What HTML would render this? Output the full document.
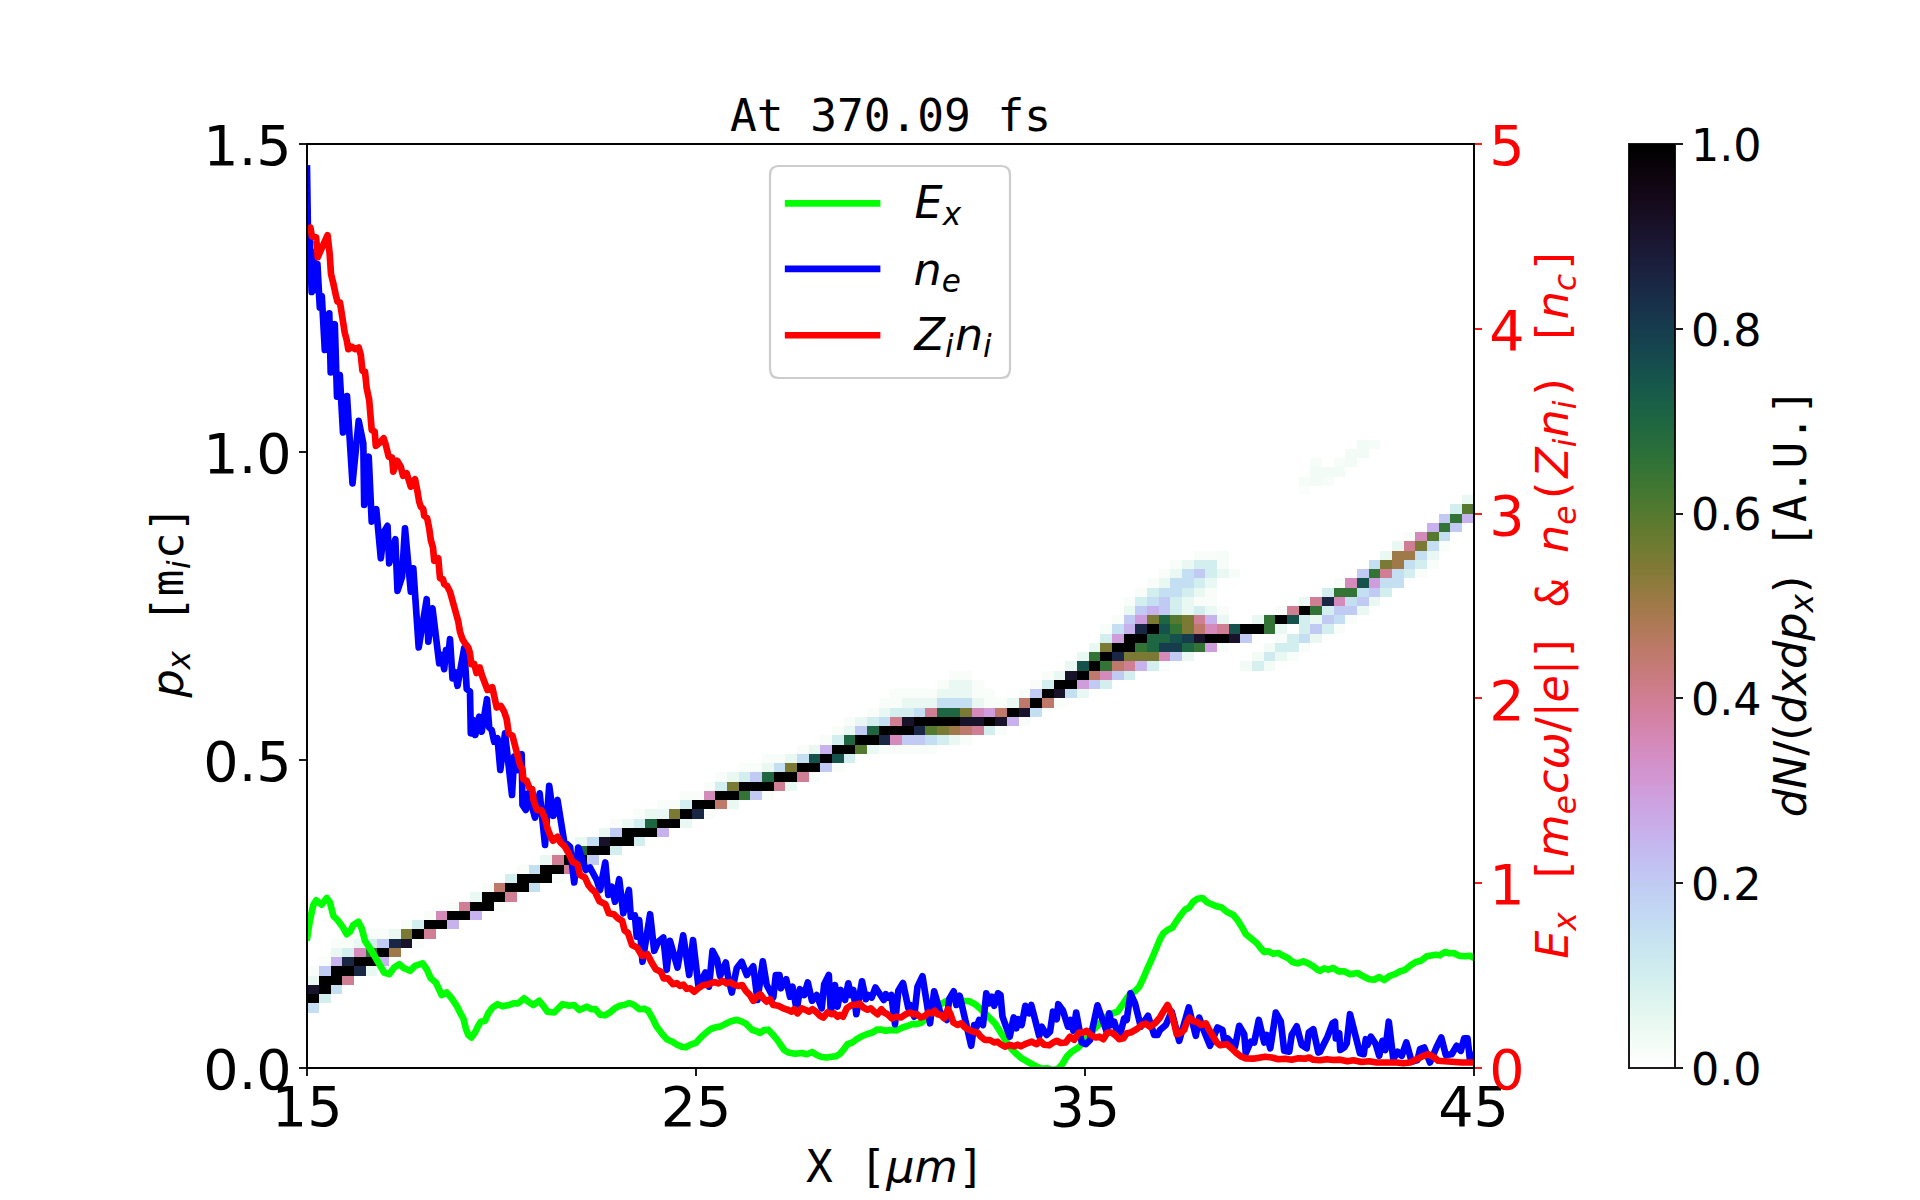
<!DOCTYPE html>
<html lang="en">
<head>
<meta charset="utf-8">
<title>At 370.09 fs</title>
<style>
html,body{margin:0;padding:0;background:#fff;overflow:hidden}
body{width:1920px;height:1200px}
svg{display:block;position:absolute;left:0;top:0}
svg text{white-space:pre}
</style>
</head>
<body>
<svg width="1920" height="1200" viewBox="0 0 1920 1200">
<rect width="1920" height="1200" fill="#ffffff"/>
<g id="hist" shape-rendering="crispEdges">
<rect x="307.200" y="1003.320" width="11.664" height="9.240" fill="#c5dff2"/>
<rect x="307.200" y="994.080" width="11.664" height="9.240" fill="#000000"/>
<rect x="318.864" y="994.080" width="11.664" height="9.240" fill="#d3eeef"/>
<rect x="307.200" y="984.840" width="11.664" height="9.240" fill="#19122b"/>
<rect x="318.864" y="984.840" width="11.664" height="9.240" fill="#000000"/>
<rect x="330.528" y="984.840" width="11.664" height="9.240" fill="#c5dff2"/>
<rect x="307.200" y="975.600" width="11.664" height="9.240" fill="#e9f8f2"/>
<rect x="318.864" y="975.600" width="23.328" height="9.240" fill="#000000"/>
<rect x="342.192" y="975.600" width="11.664" height="9.240" fill="#d07e93"/>
<rect x="307.200" y="966.360" width="11.664" height="9.240" fill="#f8fdfa"/>
<rect x="318.864" y="966.360" width="11.664" height="9.240" fill="#c1caf3"/>
<rect x="330.528" y="966.360" width="23.328" height="9.240" fill="#000000"/>
<rect x="353.856" y="966.360" width="11.664" height="9.240" fill="#1a2744"/>
<rect x="365.520" y="966.360" width="11.664" height="9.240" fill="#e9f8f2"/>
<rect x="318.864" y="957.120" width="11.664" height="9.240" fill="#f8fdfa"/>
<rect x="330.528" y="957.120" width="11.664" height="9.240" fill="#c7b2ed"/>
<rect x="342.192" y="957.120" width="11.664" height="9.240" fill="#1a2744"/>
<rect x="353.856" y="957.120" width="23.328" height="9.240" fill="#000000"/>
<rect x="377.184" y="957.120" width="11.664" height="9.240" fill="#c7b2ed"/>
<rect x="330.528" y="947.880" width="11.664" height="9.240" fill="#e9f8f2"/>
<rect x="342.192" y="947.880" width="11.664" height="9.240" fill="#d3eeef"/>
<rect x="353.856" y="947.880" width="11.664" height="9.240" fill="#d48abb"/>
<rect x="365.520" y="947.880" width="11.664" height="9.240" fill="#337335"/>
<rect x="377.184" y="947.880" width="11.664" height="9.240" fill="#000000"/>
<rect x="388.848" y="947.880" width="11.664" height="9.240" fill="#9f7948"/>
<rect x="330.528" y="938.640" width="23.328" height="9.240" fill="#f8fdfa"/>
<rect x="353.856" y="938.640" width="11.664" height="9.240" fill="#e9f8f2"/>
<rect x="365.520" y="938.640" width="11.664" height="9.240" fill="#d3eeef"/>
<rect x="377.184" y="938.640" width="11.664" height="9.240" fill="#c1caf3"/>
<rect x="388.848" y="938.640" width="11.664" height="9.240" fill="#1a2744"/>
<rect x="400.512" y="938.640" width="11.664" height="9.240" fill="#19122b"/>
<rect x="412.176" y="938.640" width="11.664" height="9.240" fill="#f8fdfa"/>
<rect x="342.192" y="929.400" width="46.656" height="9.240" fill="#f8fdfa"/>
<rect x="388.848" y="929.400" width="11.664" height="9.240" fill="#e9f8f2"/>
<rect x="400.512" y="929.400" width="11.664" height="9.240" fill="#7b7a35"/>
<rect x="412.176" y="929.400" width="11.664" height="9.240" fill="#000000"/>
<rect x="423.840" y="929.400" width="11.664" height="9.240" fill="#d07e93"/>
<rect x="400.512" y="920.160" width="11.664" height="9.240" fill="#f8fdfa"/>
<rect x="412.176" y="920.160" width="11.664" height="9.240" fill="#d3eeef"/>
<rect x="423.840" y="920.160" width="23.328" height="9.240" fill="#000000"/>
<rect x="447.168" y="920.160" width="11.664" height="9.240" fill="#c7b2ed"/>
<rect x="423.840" y="910.920" width="11.664" height="9.240" fill="#f8fdfa"/>
<rect x="435.504" y="910.920" width="11.664" height="9.240" fill="#d48abb"/>
<rect x="447.168" y="910.920" width="23.328" height="9.240" fill="#000000"/>
<rect x="470.496" y="910.920" width="11.664" height="9.240" fill="#c7b2ed"/>
<rect x="447.168" y="901.680" width="11.664" height="9.240" fill="#f8fdfa"/>
<rect x="458.832" y="901.680" width="11.664" height="9.240" fill="#d07e93"/>
<rect x="470.496" y="901.680" width="23.328" height="9.240" fill="#000000"/>
<rect x="493.824" y="901.680" width="11.664" height="9.240" fill="#f8fdfa"/>
<rect x="470.496" y="892.440" width="11.664" height="9.240" fill="#e9f8f2"/>
<rect x="482.160" y="892.440" width="23.328" height="9.240" fill="#000000"/>
<rect x="505.488" y="892.440" width="11.664" height="9.240" fill="#d07e93"/>
<rect x="482.160" y="883.200" width="11.664" height="9.240" fill="#f8fdfa"/>
<rect x="493.824" y="883.200" width="11.664" height="9.240" fill="#be796a"/>
<rect x="505.488" y="883.200" width="23.328" height="9.240" fill="#000000"/>
<rect x="528.816" y="883.200" width="11.664" height="9.240" fill="#c5dff2"/>
<rect x="505.488" y="873.960" width="11.664" height="9.240" fill="#d3eeef"/>
<rect x="517.152" y="873.960" width="34.992" height="9.240" fill="#000000"/>
<rect x="552.144" y="873.960" width="11.664" height="9.240" fill="#f8fdfa"/>
<rect x="517.152" y="864.720" width="11.664" height="9.240" fill="#f8fdfa"/>
<rect x="528.816" y="864.720" width="11.664" height="9.240" fill="#c5dff2"/>
<rect x="540.480" y="864.720" width="23.328" height="9.240" fill="#000000"/>
<rect x="563.808" y="864.720" width="11.664" height="9.240" fill="#d07e93"/>
<rect x="540.480" y="855.480" width="11.664" height="9.240" fill="#e9f8f2"/>
<rect x="552.144" y="855.480" width="11.664" height="9.240" fill="#d07e93"/>
<rect x="563.808" y="855.480" width="23.328" height="9.240" fill="#000000"/>
<rect x="587.136" y="855.480" width="11.664" height="9.240" fill="#c1caf3"/>
<rect x="552.144" y="846.240" width="11.664" height="9.240" fill="#f8fdfa"/>
<rect x="563.808" y="846.240" width="11.664" height="9.240" fill="#d3eeef"/>
<rect x="575.472" y="846.240" width="11.664" height="9.240" fill="#1e6542"/>
<rect x="587.136" y="846.240" width="23.328" height="9.240" fill="#000000"/>
<rect x="610.464" y="846.240" width="11.664" height="9.240" fill="#d3eeef"/>
<rect x="575.472" y="837.000" width="11.664" height="9.240" fill="#e9f8f2"/>
<rect x="587.136" y="837.000" width="11.664" height="9.240" fill="#c5dff2"/>
<rect x="598.800" y="837.000" width="11.664" height="9.240" fill="#19122b"/>
<rect x="610.464" y="837.000" width="23.328" height="9.240" fill="#000000"/>
<rect x="633.792" y="837.000" width="11.664" height="9.240" fill="#d3eeef"/>
<rect x="598.800" y="827.760" width="11.664" height="9.240" fill="#e9f8f2"/>
<rect x="610.464" y="827.760" width="11.664" height="9.240" fill="#c1caf3"/>
<rect x="622.128" y="827.760" width="34.992" height="9.240" fill="#000000"/>
<rect x="657.120" y="827.760" width="11.664" height="9.240" fill="#c7b2ed"/>
<rect x="610.464" y="818.520" width="11.664" height="9.240" fill="#f8fdfa"/>
<rect x="622.128" y="818.520" width="11.664" height="9.240" fill="#e9f8f2"/>
<rect x="633.792" y="818.520" width="11.664" height="9.240" fill="#d3eeef"/>
<rect x="645.456" y="818.520" width="11.664" height="9.240" fill="#1e6542"/>
<rect x="657.120" y="818.520" width="23.328" height="9.240" fill="#000000"/>
<rect x="680.448" y="818.520" width="11.664" height="9.240" fill="#e9f8f2"/>
<rect x="633.792" y="809.280" width="11.664" height="9.240" fill="#f8fdfa"/>
<rect x="645.456" y="809.280" width="23.328" height="9.240" fill="#e9f8f2"/>
<rect x="668.784" y="809.280" width="11.664" height="9.240" fill="#7b7a35"/>
<rect x="680.448" y="809.280" width="11.664" height="9.240" fill="#000000"/>
<rect x="692.112" y="809.280" width="11.664" height="9.240" fill="#1a2744"/>
<rect x="703.776" y="809.280" width="11.664" height="9.240" fill="#f8fdfa"/>
<rect x="657.120" y="800.040" width="23.328" height="9.240" fill="#f8fdfa"/>
<rect x="680.448" y="800.040" width="11.664" height="9.240" fill="#d3eeef"/>
<rect x="692.112" y="800.040" width="23.328" height="9.240" fill="#000000"/>
<rect x="715.440" y="800.040" width="11.664" height="9.240" fill="#be796a"/>
<rect x="727.104" y="800.040" width="11.664" height="9.240" fill="#e9f8f2"/>
<rect x="680.448" y="790.800" width="23.328" height="9.240" fill="#f8fdfa"/>
<rect x="703.776" y="790.800" width="11.664" height="9.240" fill="#d48abb"/>
<rect x="715.440" y="790.800" width="23.328" height="9.240" fill="#000000"/>
<rect x="738.768" y="790.800" width="11.664" height="9.240" fill="#337335"/>
<rect x="750.432" y="790.800" width="11.664" height="9.240" fill="#c1caf3"/>
<rect x="762.096" y="790.800" width="11.664" height="9.240" fill="#f8fdfa"/>
<rect x="703.776" y="781.560" width="11.664" height="9.240" fill="#f8fdfa"/>
<rect x="715.440" y="781.560" width="11.664" height="9.240" fill="#d3eeef"/>
<rect x="727.104" y="781.560" width="11.664" height="9.240" fill="#7b7a35"/>
<rect x="738.768" y="781.560" width="34.992" height="9.240" fill="#000000"/>
<rect x="773.760" y="781.560" width="11.664" height="9.240" fill="#d07e93"/>
<rect x="785.424" y="781.560" width="11.664" height="9.240" fill="#e9f8f2"/>
<rect x="715.440" y="772.320" width="11.664" height="9.240" fill="#f8fdfa"/>
<rect x="727.104" y="772.320" width="11.664" height="9.240" fill="#e9f8f2"/>
<rect x="738.768" y="772.320" width="11.664" height="9.240" fill="#d3eeef"/>
<rect x="750.432" y="772.320" width="11.664" height="9.240" fill="#c1caf3"/>
<rect x="762.096" y="772.320" width="11.664" height="9.240" fill="#1e6542"/>
<rect x="773.760" y="772.320" width="23.328" height="9.240" fill="#000000"/>
<rect x="797.088" y="772.320" width="11.664" height="9.240" fill="#d07e93"/>
<rect x="808.752" y="772.320" width="11.664" height="9.240" fill="#f8fdfa"/>
<rect x="738.768" y="763.080" width="23.328" height="9.240" fill="#f8fdfa"/>
<rect x="762.096" y="763.080" width="11.664" height="9.240" fill="#e9f8f2"/>
<rect x="773.760" y="763.080" width="11.664" height="9.240" fill="#c5dff2"/>
<rect x="785.424" y="763.080" width="11.664" height="9.240" fill="#7b7a35"/>
<rect x="797.088" y="763.080" width="23.328" height="9.240" fill="#000000"/>
<rect x="820.416" y="763.080" width="11.664" height="9.240" fill="#c1caf3"/>
<rect x="832.080" y="763.080" width="11.664" height="9.240" fill="#f8fdfa"/>
<rect x="762.096" y="753.840" width="23.328" height="9.240" fill="#f8fdfa"/>
<rect x="785.424" y="753.840" width="11.664" height="9.240" fill="#e9f8f2"/>
<rect x="797.088" y="753.840" width="11.664" height="9.240" fill="#c5dff2"/>
<rect x="808.752" y="753.840" width="11.664" height="9.240" fill="#15524c"/>
<rect x="820.416" y="753.840" width="11.664" height="9.240" fill="#000000"/>
<rect x="832.080" y="753.840" width="11.664" height="9.240" fill="#15524c"/>
<rect x="843.744" y="753.840" width="11.664" height="9.240" fill="#d3eeef"/>
<rect x="797.088" y="744.600" width="11.664" height="9.240" fill="#f8fdfa"/>
<rect x="808.752" y="744.600" width="11.664" height="9.240" fill="#e9f8f2"/>
<rect x="820.416" y="744.600" width="11.664" height="9.240" fill="#c7b2ed"/>
<rect x="832.080" y="744.600" width="23.328" height="9.240" fill="#000000"/>
<rect x="855.408" y="744.600" width="11.664" height="9.240" fill="#54792f"/>
<rect x="867.072" y="744.600" width="11.664" height="9.240" fill="#e9f8f2"/>
<rect x="878.736" y="744.600" width="58.320" height="9.240" fill="#f8fdfa"/>
<rect x="820.416" y="735.360" width="11.664" height="9.240" fill="#f8fdfa"/>
<rect x="832.080" y="735.360" width="11.664" height="9.240" fill="#d3eeef"/>
<rect x="843.744" y="735.360" width="11.664" height="9.240" fill="#1e6542"/>
<rect x="855.408" y="735.360" width="23.328" height="9.240" fill="#000000"/>
<rect x="878.736" y="735.360" width="11.664" height="9.240" fill="#1a2744"/>
<rect x="890.400" y="735.360" width="11.664" height="9.240" fill="#d48abb"/>
<rect x="902.064" y="735.360" width="23.328" height="9.240" fill="#c1caf3"/>
<rect x="925.392" y="735.360" width="11.664" height="9.240" fill="#c5dff2"/>
<rect x="937.056" y="735.360" width="11.664" height="9.240" fill="#d3eeef"/>
<rect x="948.720" y="735.360" width="11.664" height="9.240" fill="#e9f8f2"/>
<rect x="960.384" y="735.360" width="11.664" height="9.240" fill="#f8fdfa"/>
<rect x="832.080" y="726.120" width="11.664" height="9.240" fill="#f8fdfa"/>
<rect x="843.744" y="726.120" width="11.664" height="9.240" fill="#e9f8f2"/>
<rect x="855.408" y="726.120" width="11.664" height="9.240" fill="#c1caf3"/>
<rect x="867.072" y="726.120" width="11.664" height="9.240" fill="#1e6542"/>
<rect x="878.736" y="726.120" width="34.992" height="9.240" fill="#000000"/>
<rect x="913.728" y="726.120" width="11.664" height="9.240" fill="#1a2744"/>
<rect x="925.392" y="726.120" width="11.664" height="9.240" fill="#54792f"/>
<rect x="937.056" y="726.120" width="11.664" height="9.240" fill="#7b7a35"/>
<rect x="948.720" y="726.120" width="11.664" height="9.240" fill="#9f7948"/>
<rect x="960.384" y="726.120" width="11.664" height="9.240" fill="#be796a"/>
<rect x="972.048" y="726.120" width="11.664" height="9.240" fill="#d07e93"/>
<rect x="983.712" y="726.120" width="11.664" height="9.240" fill="#d3eeef"/>
<rect x="995.376" y="726.120" width="11.664" height="9.240" fill="#f8fdfa"/>
<rect x="843.744" y="716.880" width="11.664" height="9.240" fill="#f8fdfa"/>
<rect x="855.408" y="716.880" width="11.664" height="9.240" fill="#e9f8f2"/>
<rect x="867.072" y="716.880" width="11.664" height="9.240" fill="#d3eeef"/>
<rect x="878.736" y="716.880" width="11.664" height="9.240" fill="#c5dff2"/>
<rect x="890.400" y="716.880" width="11.664" height="9.240" fill="#d07e93"/>
<rect x="902.064" y="716.880" width="11.664" height="9.240" fill="#19122b"/>
<rect x="913.728" y="716.880" width="46.656" height="9.240" fill="#000000"/>
<rect x="960.384" y="716.880" width="23.328" height="9.240" fill="#19122b"/>
<rect x="983.712" y="716.880" width="11.664" height="9.240" fill="#000000"/>
<rect x="995.376" y="716.880" width="11.664" height="9.240" fill="#19122b"/>
<rect x="1007.040" y="716.880" width="11.664" height="9.240" fill="#c7b2ed"/>
<rect x="1018.704" y="716.880" width="11.664" height="9.240" fill="#f8fdfa"/>
<rect x="867.072" y="707.640" width="11.664" height="9.240" fill="#f8fdfa"/>
<rect x="878.736" y="707.640" width="11.664" height="9.240" fill="#e9f8f2"/>
<rect x="890.400" y="707.640" width="23.328" height="9.240" fill="#d3eeef"/>
<rect x="913.728" y="707.640" width="11.664" height="9.240" fill="#c5dff2"/>
<rect x="925.392" y="707.640" width="11.664" height="9.240" fill="#d07e93"/>
<rect x="937.056" y="707.640" width="23.328" height="9.240" fill="#1e6542"/>
<rect x="960.384" y="707.640" width="11.664" height="9.240" fill="#7b7a35"/>
<rect x="972.048" y="707.640" width="11.664" height="9.240" fill="#d48abb"/>
<rect x="983.712" y="707.640" width="11.664" height="9.240" fill="#cf9ddb"/>
<rect x="995.376" y="707.640" width="11.664" height="9.240" fill="#be796a"/>
<rect x="1007.040" y="707.640" width="11.664" height="9.240" fill="#000000"/>
<rect x="1018.704" y="707.640" width="11.664" height="9.240" fill="#19122b"/>
<rect x="1030.368" y="707.640" width="11.664" height="9.240" fill="#c5dff2"/>
<rect x="878.736" y="698.400" width="23.328" height="9.240" fill="#f8fdfa"/>
<rect x="902.064" y="698.400" width="34.992" height="9.240" fill="#e9f8f2"/>
<rect x="937.056" y="698.400" width="34.992" height="9.240" fill="#c5dff2"/>
<rect x="972.048" y="698.400" width="11.664" height="9.240" fill="#e9f8f2"/>
<rect x="983.712" y="698.400" width="23.328" height="9.240" fill="#f8fdfa"/>
<rect x="1007.040" y="698.400" width="11.664" height="9.240" fill="#e9f8f2"/>
<rect x="1018.704" y="698.400" width="11.664" height="9.240" fill="#be796a"/>
<rect x="1030.368" y="698.400" width="11.664" height="9.240" fill="#000000"/>
<rect x="1042.032" y="698.400" width="11.664" height="9.240" fill="#be796a"/>
<rect x="1053.696" y="698.400" width="11.664" height="9.240" fill="#f8fdfa"/>
<rect x="890.400" y="689.160" width="46.656" height="9.240" fill="#f8fdfa"/>
<rect x="937.056" y="689.160" width="34.992" height="9.240" fill="#e9f8f2"/>
<rect x="972.048" y="689.160" width="23.328" height="9.240" fill="#f8fdfa"/>
<rect x="1018.704" y="689.160" width="11.664" height="9.240" fill="#f8fdfa"/>
<rect x="1030.368" y="689.160" width="11.664" height="9.240" fill="#c1caf3"/>
<rect x="1042.032" y="689.160" width="11.664" height="9.240" fill="#000000"/>
<rect x="1053.696" y="689.160" width="11.664" height="9.240" fill="#19122b"/>
<rect x="1065.360" y="689.160" width="11.664" height="9.240" fill="#c5dff2"/>
<rect x="1077.024" y="689.160" width="11.664" height="9.240" fill="#e9f8f2"/>
<rect x="937.056" y="679.920" width="11.664" height="9.240" fill="#f8fdfa"/>
<rect x="948.720" y="679.920" width="23.328" height="9.240" fill="#e9f8f2"/>
<rect x="972.048" y="679.920" width="11.664" height="9.240" fill="#f8fdfa"/>
<rect x="1030.368" y="679.920" width="11.664" height="9.240" fill="#f8fdfa"/>
<rect x="1042.032" y="679.920" width="11.664" height="9.240" fill="#d3eeef"/>
<rect x="1053.696" y="679.920" width="23.328" height="9.240" fill="#000000"/>
<rect x="1077.024" y="679.920" width="11.664" height="9.240" fill="#cf9ddb"/>
<rect x="1088.688" y="679.920" width="11.664" height="9.240" fill="#c1caf3"/>
<rect x="1100.352" y="679.920" width="11.664" height="9.240" fill="#d3eeef"/>
<rect x="948.720" y="670.680" width="23.328" height="9.240" fill="#f8fdfa"/>
<rect x="1042.032" y="670.680" width="11.664" height="9.240" fill="#f8fdfa"/>
<rect x="1053.696" y="670.680" width="11.664" height="9.240" fill="#e9f8f2"/>
<rect x="1065.360" y="670.680" width="11.664" height="9.240" fill="#19122b"/>
<rect x="1077.024" y="670.680" width="11.664" height="9.240" fill="#000000"/>
<rect x="1088.688" y="670.680" width="11.664" height="9.240" fill="#be796a"/>
<rect x="1100.352" y="670.680" width="11.664" height="9.240" fill="#d48abb"/>
<rect x="1112.016" y="670.680" width="11.664" height="9.240" fill="#c1caf3"/>
<rect x="1123.680" y="670.680" width="11.664" height="9.240" fill="#d3eeef"/>
<rect x="1065.360" y="661.440" width="11.664" height="9.240" fill="#e9f8f2"/>
<rect x="1077.024" y="661.440" width="11.664" height="9.240" fill="#15524c"/>
<rect x="1088.688" y="661.440" width="11.664" height="9.240" fill="#000000"/>
<rect x="1100.352" y="661.440" width="11.664" height="9.240" fill="#337335"/>
<rect x="1112.016" y="661.440" width="11.664" height="9.240" fill="#be796a"/>
<rect x="1123.680" y="661.440" width="11.664" height="9.240" fill="#d07e93"/>
<rect x="1135.344" y="661.440" width="11.664" height="9.240" fill="#c7b2ed"/>
<rect x="1147.008" y="661.440" width="11.664" height="9.240" fill="#d3eeef"/>
<rect x="1158.672" y="661.440" width="11.664" height="9.240" fill="#f8fdfa"/>
<rect x="1240.320" y="661.440" width="11.664" height="9.240" fill="#f2fbf6"/>
<rect x="1251.984" y="661.440" width="11.664" height="9.240" fill="#d6f0ef"/>
<rect x="1263.648" y="661.440" width="11.664" height="9.240" fill="#f2fbf6"/>
<rect x="1077.024" y="652.200" width="11.664" height="9.240" fill="#e9f8f2"/>
<rect x="1088.688" y="652.200" width="11.664" height="9.240" fill="#337335"/>
<rect x="1100.352" y="652.200" width="11.664" height="9.240" fill="#000000"/>
<rect x="1112.016" y="652.200" width="11.664" height="9.240" fill="#1a2744"/>
<rect x="1123.680" y="652.200" width="34.992" height="9.240" fill="#7b7a35"/>
<rect x="1158.672" y="652.200" width="11.664" height="9.240" fill="#d48abb"/>
<rect x="1170.336" y="652.200" width="11.664" height="9.240" fill="#c1caf3"/>
<rect x="1182.000" y="652.200" width="11.664" height="9.240" fill="#e9f8f2"/>
<rect x="1251.984" y="652.200" width="11.664" height="9.240" fill="#f2fbf6"/>
<rect x="1263.648" y="652.200" width="11.664" height="9.240" fill="#cfebef"/>
<rect x="1275.312" y="652.200" width="11.664" height="9.240" fill="#e9f8f2"/>
<rect x="1286.976" y="652.200" width="11.664" height="9.240" fill="#f8fdfa"/>
<rect x="1088.688" y="642.960" width="11.664" height="9.240" fill="#e9f8f2"/>
<rect x="1100.352" y="642.960" width="11.664" height="9.240" fill="#7b7a35"/>
<rect x="1112.016" y="642.960" width="23.328" height="9.240" fill="#000000"/>
<rect x="1135.344" y="642.960" width="11.664" height="9.240" fill="#337335"/>
<rect x="1147.008" y="642.960" width="11.664" height="9.240" fill="#1e6542"/>
<rect x="1158.672" y="642.960" width="23.328" height="9.240" fill="#163d4e"/>
<rect x="1182.000" y="642.960" width="11.664" height="9.240" fill="#1e6542"/>
<rect x="1193.664" y="642.960" width="11.664" height="9.240" fill="#337335"/>
<rect x="1205.328" y="642.960" width="11.664" height="9.240" fill="#cf9ddb"/>
<rect x="1216.992" y="642.960" width="11.664" height="9.240" fill="#f8fdfa"/>
<rect x="1263.648" y="642.960" width="11.664" height="9.240" fill="#f2fbf6"/>
<rect x="1275.312" y="642.960" width="23.328" height="9.240" fill="#d3eeef"/>
<rect x="1298.640" y="642.960" width="11.664" height="9.240" fill="#f8fdfa"/>
<rect x="1100.352" y="633.720" width="11.664" height="9.240" fill="#d3eeef"/>
<rect x="1112.016" y="633.720" width="11.664" height="9.240" fill="#cf9ddb"/>
<rect x="1123.680" y="633.720" width="23.328" height="9.240" fill="#000000"/>
<rect x="1147.008" y="633.720" width="23.328" height="9.240" fill="#1e6542"/>
<rect x="1170.336" y="633.720" width="11.664" height="9.240" fill="#15524c"/>
<rect x="1182.000" y="633.720" width="11.664" height="9.240" fill="#163d4e"/>
<rect x="1193.664" y="633.720" width="11.664" height="9.240" fill="#19122b"/>
<rect x="1205.328" y="633.720" width="23.328" height="9.240" fill="#000000"/>
<rect x="1228.656" y="633.720" width="11.664" height="9.240" fill="#19122b"/>
<rect x="1240.320" y="633.720" width="11.664" height="9.240" fill="#c1caf3"/>
<rect x="1275.312" y="633.720" width="11.664" height="9.240" fill="#f8fdfa"/>
<rect x="1286.976" y="633.720" width="11.664" height="9.240" fill="#d3eeef"/>
<rect x="1298.640" y="633.720" width="11.664" height="9.240" fill="#c5dff2"/>
<rect x="1310.304" y="633.720" width="11.664" height="9.240" fill="#e9f8f2"/>
<rect x="1100.352" y="624.480" width="11.664" height="9.240" fill="#f8fdfa"/>
<rect x="1112.016" y="624.480" width="11.664" height="9.240" fill="#c5dff2"/>
<rect x="1123.680" y="624.480" width="11.664" height="9.240" fill="#c7b2ed"/>
<rect x="1135.344" y="624.480" width="11.664" height="9.240" fill="#1a2744"/>
<rect x="1147.008" y="624.480" width="11.664" height="9.240" fill="#000000"/>
<rect x="1158.672" y="624.480" width="11.664" height="9.240" fill="#15524c"/>
<rect x="1170.336" y="624.480" width="11.664" height="9.240" fill="#337335"/>
<rect x="1182.000" y="624.480" width="11.664" height="9.240" fill="#7b7a35"/>
<rect x="1193.664" y="624.480" width="11.664" height="9.240" fill="#be796a"/>
<rect x="1205.328" y="624.480" width="11.664" height="9.240" fill="#d48abb"/>
<rect x="1216.992" y="624.480" width="11.664" height="9.240" fill="#d07e93"/>
<rect x="1228.656" y="624.480" width="11.664" height="9.240" fill="#15524c"/>
<rect x="1240.320" y="624.480" width="23.328" height="9.240" fill="#000000"/>
<rect x="1263.648" y="624.480" width="11.664" height="9.240" fill="#337335"/>
<rect x="1275.312" y="624.480" width="11.664" height="9.240" fill="#e9f8f2"/>
<rect x="1298.640" y="624.480" width="11.664" height="9.240" fill="#d3eeef"/>
<rect x="1310.304" y="624.480" width="11.664" height="9.240" fill="#c1caf3"/>
<rect x="1321.968" y="624.480" width="11.664" height="9.240" fill="#d3eeef"/>
<rect x="1333.632" y="624.480" width="11.664" height="9.240" fill="#f8fdfa"/>
<rect x="1112.016" y="615.240" width="11.664" height="9.240" fill="#f8fdfa"/>
<rect x="1123.680" y="615.240" width="11.664" height="9.240" fill="#c1caf3"/>
<rect x="1135.344" y="615.240" width="11.664" height="9.240" fill="#cf9ddb"/>
<rect x="1147.008" y="615.240" width="11.664" height="9.240" fill="#7b7a35"/>
<rect x="1158.672" y="615.240" width="11.664" height="9.240" fill="#1e6542"/>
<rect x="1170.336" y="615.240" width="11.664" height="9.240" fill="#54792f"/>
<rect x="1182.000" y="615.240" width="11.664" height="9.240" fill="#7b7a35"/>
<rect x="1193.664" y="615.240" width="11.664" height="9.240" fill="#d07e93"/>
<rect x="1205.328" y="615.240" width="11.664" height="9.240" fill="#c7b2ed"/>
<rect x="1216.992" y="615.240" width="11.664" height="9.240" fill="#e9f8f2"/>
<rect x="1251.984" y="615.240" width="11.664" height="9.240" fill="#e9f8f2"/>
<rect x="1263.648" y="615.240" width="11.664" height="9.240" fill="#337335"/>
<rect x="1275.312" y="615.240" width="11.664" height="9.240" fill="#000000"/>
<rect x="1286.976" y="615.240" width="11.664" height="9.240" fill="#15524c"/>
<rect x="1298.640" y="615.240" width="11.664" height="9.240" fill="#d3eeef"/>
<rect x="1310.304" y="615.240" width="11.664" height="9.240" fill="#e9f8f2"/>
<rect x="1321.968" y="615.240" width="11.664" height="9.240" fill="#c1caf3"/>
<rect x="1333.632" y="615.240" width="11.664" height="9.240" fill="#c5dff2"/>
<rect x="1345.296" y="615.240" width="11.664" height="9.240" fill="#f8fdfa"/>
<rect x="1123.680" y="606.000" width="11.664" height="9.240" fill="#e9f8f2"/>
<rect x="1135.344" y="606.000" width="11.664" height="9.240" fill="#c1caf3"/>
<rect x="1147.008" y="606.000" width="11.664" height="9.240" fill="#c7b2ed"/>
<rect x="1158.672" y="606.000" width="11.664" height="9.240" fill="#c1caf3"/>
<rect x="1170.336" y="606.000" width="11.664" height="9.240" fill="#d3eeef"/>
<rect x="1182.000" y="606.000" width="11.664" height="9.240" fill="#e9f8f2"/>
<rect x="1193.664" y="606.000" width="11.664" height="9.240" fill="#d3eeef"/>
<rect x="1205.328" y="606.000" width="11.664" height="9.240" fill="#e9f8f2"/>
<rect x="1216.992" y="606.000" width="11.664" height="9.240" fill="#f8fdfa"/>
<rect x="1275.312" y="606.000" width="11.664" height="9.240" fill="#f8fdfa"/>
<rect x="1286.976" y="606.000" width="11.664" height="9.240" fill="#d07e93"/>
<rect x="1298.640" y="606.000" width="11.664" height="9.240" fill="#000000"/>
<rect x="1310.304" y="606.000" width="11.664" height="9.240" fill="#337335"/>
<rect x="1321.968" y="606.000" width="11.664" height="9.240" fill="#d3eeef"/>
<rect x="1333.632" y="606.000" width="23.328" height="9.240" fill="#c1caf3"/>
<rect x="1356.960" y="606.000" width="11.664" height="9.240" fill="#e9f8f2"/>
<rect x="1123.680" y="596.760" width="11.664" height="9.240" fill="#f8fdfa"/>
<rect x="1135.344" y="596.760" width="11.664" height="9.240" fill="#d3eeef"/>
<rect x="1147.008" y="596.760" width="11.664" height="9.240" fill="#c5dff2"/>
<rect x="1158.672" y="596.760" width="11.664" height="9.240" fill="#c1caf3"/>
<rect x="1170.336" y="596.760" width="11.664" height="9.240" fill="#d3eeef"/>
<rect x="1182.000" y="596.760" width="11.664" height="9.240" fill="#e9f8f2"/>
<rect x="1193.664" y="596.760" width="23.328" height="9.240" fill="#f8fdfa"/>
<rect x="1298.640" y="596.760" width="11.664" height="9.240" fill="#e9f8f2"/>
<rect x="1310.304" y="596.760" width="11.664" height="9.240" fill="#d07e93"/>
<rect x="1321.968" y="596.760" width="11.664" height="9.240" fill="#1a2744"/>
<rect x="1333.632" y="596.760" width="11.664" height="9.240" fill="#d48abb"/>
<rect x="1345.296" y="596.760" width="11.664" height="9.240" fill="#c5dff2"/>
<rect x="1356.960" y="596.760" width="11.664" height="9.240" fill="#c1caf3"/>
<rect x="1368.624" y="596.760" width="11.664" height="9.240" fill="#e9f8f2"/>
<rect x="1135.344" y="587.520" width="11.664" height="9.240" fill="#f8fdfa"/>
<rect x="1147.008" y="587.520" width="11.664" height="9.240" fill="#d3eeef"/>
<rect x="1158.672" y="587.520" width="23.328" height="9.240" fill="#c5dff2"/>
<rect x="1182.000" y="587.520" width="11.664" height="9.240" fill="#d3eeef"/>
<rect x="1193.664" y="587.520" width="11.664" height="9.240" fill="#e9f8f2"/>
<rect x="1205.328" y="587.520" width="11.664" height="9.240" fill="#f8fdfa"/>
<rect x="1321.968" y="587.520" width="11.664" height="9.240" fill="#d3eeef"/>
<rect x="1333.632" y="587.520" width="23.328" height="9.240" fill="#337335"/>
<rect x="1356.960" y="587.520" width="11.664" height="9.240" fill="#c5dff2"/>
<rect x="1368.624" y="587.520" width="11.664" height="9.240" fill="#c1caf3"/>
<rect x="1380.288" y="587.520" width="11.664" height="9.240" fill="#d3eeef"/>
<rect x="1147.008" y="578.280" width="11.664" height="9.240" fill="#f8fdfa"/>
<rect x="1158.672" y="578.280" width="11.664" height="9.240" fill="#e9f8f2"/>
<rect x="1170.336" y="578.280" width="23.328" height="9.240" fill="#c5dff2"/>
<rect x="1193.664" y="578.280" width="11.664" height="9.240" fill="#d3eeef"/>
<rect x="1205.328" y="578.280" width="11.664" height="9.240" fill="#e9f8f2"/>
<rect x="1333.632" y="578.280" width="11.664" height="9.240" fill="#f8fdfa"/>
<rect x="1345.296" y="578.280" width="11.664" height="9.240" fill="#d48abb"/>
<rect x="1356.960" y="578.280" width="11.664" height="9.240" fill="#15524c"/>
<rect x="1368.624" y="578.280" width="11.664" height="9.240" fill="#cf9ddb"/>
<rect x="1380.288" y="578.280" width="23.328" height="9.240" fill="#c5dff2"/>
<rect x="1158.672" y="569.040" width="11.664" height="9.240" fill="#f8fdfa"/>
<rect x="1170.336" y="569.040" width="11.664" height="9.240" fill="#e9f8f2"/>
<rect x="1182.000" y="569.040" width="11.664" height="9.240" fill="#c5dff2"/>
<rect x="1193.664" y="569.040" width="11.664" height="9.240" fill="#c1caf3"/>
<rect x="1205.328" y="569.040" width="11.664" height="9.240" fill="#d3eeef"/>
<rect x="1216.992" y="569.040" width="11.664" height="9.240" fill="#e9f8f2"/>
<rect x="1228.656" y="569.040" width="11.664" height="9.240" fill="#f6fcf8"/>
<rect x="1356.960" y="569.040" width="11.664" height="9.240" fill="#c1caf3"/>
<rect x="1368.624" y="569.040" width="11.664" height="9.240" fill="#337335"/>
<rect x="1380.288" y="569.040" width="11.664" height="9.240" fill="#d07e93"/>
<rect x="1391.952" y="569.040" width="11.664" height="9.240" fill="#c5dff2"/>
<rect x="1403.616" y="569.040" width="11.664" height="9.240" fill="#d3eeef"/>
<rect x="1415.280" y="569.040" width="11.664" height="9.240" fill="#f8fdfa"/>
<rect x="1170.336" y="559.800" width="11.664" height="9.240" fill="#f8fdfa"/>
<rect x="1182.000" y="559.800" width="11.664" height="9.240" fill="#e9f8f2"/>
<rect x="1193.664" y="559.800" width="23.328" height="9.240" fill="#d3eeef"/>
<rect x="1216.992" y="559.800" width="11.664" height="9.240" fill="#f6fcf8"/>
<rect x="1368.624" y="559.800" width="11.664" height="9.240" fill="#c5dff2"/>
<rect x="1380.288" y="559.800" width="11.664" height="9.240" fill="#7b7a35"/>
<rect x="1391.952" y="559.800" width="11.664" height="9.240" fill="#9f7948"/>
<rect x="1403.616" y="559.800" width="11.664" height="9.240" fill="#c5dff2"/>
<rect x="1415.280" y="559.800" width="11.664" height="9.240" fill="#d3eeef"/>
<rect x="1426.944" y="559.800" width="11.664" height="9.240" fill="#f8fdfa"/>
<rect x="1193.664" y="550.560" width="23.328" height="9.240" fill="#f8fdfa"/>
<rect x="1216.992" y="550.560" width="11.664" height="9.240" fill="#f6fcf8"/>
<rect x="1380.288" y="550.560" width="11.664" height="9.240" fill="#e9f8f2"/>
<rect x="1391.952" y="550.560" width="23.328" height="9.240" fill="#9f7948"/>
<rect x="1415.280" y="550.560" width="11.664" height="9.240" fill="#c5dff2"/>
<rect x="1426.944" y="550.560" width="11.664" height="9.240" fill="#e9f8f2"/>
<rect x="1391.952" y="541.320" width="11.664" height="9.240" fill="#e9f8f2"/>
<rect x="1403.616" y="541.320" width="11.664" height="9.240" fill="#d07e93"/>
<rect x="1415.280" y="541.320" width="11.664" height="9.240" fill="#7b7a35"/>
<rect x="1426.944" y="541.320" width="11.664" height="9.240" fill="#c5dff2"/>
<rect x="1438.608" y="541.320" width="11.664" height="9.240" fill="#f8fdfa"/>
<rect x="1403.616" y="532.080" width="11.664" height="9.240" fill="#f8fdfa"/>
<rect x="1415.280" y="532.080" width="11.664" height="9.240" fill="#d48abb"/>
<rect x="1426.944" y="532.080" width="11.664" height="9.240" fill="#54792f"/>
<rect x="1438.608" y="532.080" width="11.664" height="9.240" fill="#c5dff2"/>
<rect x="1426.944" y="522.840" width="11.664" height="9.240" fill="#c7b2ed"/>
<rect x="1438.608" y="522.840" width="11.664" height="9.240" fill="#337335"/>
<rect x="1450.272" y="522.840" width="11.664" height="9.240" fill="#c1caf3"/>
<rect x="1438.608" y="513.600" width="11.664" height="9.240" fill="#c1caf3"/>
<rect x="1450.272" y="513.600" width="11.664" height="9.240" fill="#337335"/>
<rect x="1461.936" y="513.600" width="11.664" height="9.240" fill="#c7b2ed"/>
<rect x="1450.272" y="504.360" width="11.664" height="9.240" fill="#d3eeef"/>
<rect x="1461.936" y="504.360" width="11.664" height="9.240" fill="#54792f"/>
<rect x="1461.936" y="495.120" width="11.664" height="9.240" fill="#e9f8f2"/>
<rect x="1298.640" y="485.880" width="11.664" height="9.240" fill="#fafdfb"/>
<rect x="1298.640" y="476.640" width="11.664" height="9.240" fill="#f6fcf8"/>
<rect x="1310.304" y="476.640" width="11.664" height="9.240" fill="#f2fbf6"/>
<rect x="1321.968" y="476.640" width="11.664" height="9.240" fill="#f6fcf8"/>
<rect x="1310.304" y="467.400" width="34.992" height="9.240" fill="#f2fbf6"/>
<rect x="1310.304" y="458.160" width="11.664" height="9.240" fill="#f6fcf8"/>
<rect x="1333.632" y="458.160" width="11.664" height="9.240" fill="#f6fcf8"/>
<rect x="1345.296" y="458.160" width="11.664" height="9.240" fill="#f2fbf6"/>
<rect x="1345.296" y="448.920" width="23.328" height="9.240" fill="#f2fbf6"/>
<rect x="1356.960" y="439.680" width="11.664" height="9.240" fill="#f2fbf6"/>
<rect x="1368.624" y="439.680" width="11.664" height="9.240" fill="#f6fcf8"/>
</g>
<g id="cbar" shape-rendering="crispEdges">
<rect x="1629" y="1064" width="46" height="4" fill="#ffffff"/>
<rect x="1629" y="1061" width="46" height="3" fill="#fdfefe"/>
<rect x="1629" y="1057" width="46" height="4" fill="#fbfefc"/>
<rect x="1629" y="1054" width="46" height="3" fill="#fafdfb"/>
<rect x="1629" y="1050" width="46" height="4" fill="#f8fdfa"/>
<rect x="1629" y="1046" width="46" height="4" fill="#f6fcf8"/>
<rect x="1629" y="1043" width="46" height="3" fill="#f4fcf7"/>
<rect x="1629" y="1039" width="46" height="4" fill="#f2fbf6"/>
<rect x="1629" y="1036" width="46" height="3" fill="#f0fbf5"/>
<rect x="1629" y="1032" width="46" height="4" fill="#effaf4"/>
<rect x="1629" y="1028" width="46" height="4" fill="#edfaf4"/>
<rect x="1629" y="1025" width="46" height="3" fill="#ebf9f3"/>
<rect x="1629" y="1021" width="46" height="4" fill="#e9f8f2"/>
<rect x="1629" y="1017" width="46" height="4" fill="#e7f8f1"/>
<rect x="1629" y="1014" width="46" height="3" fill="#e5f7f1"/>
<rect x="1629" y="1010" width="46" height="4" fill="#e3f6f0"/>
<rect x="1629" y="1007" width="46" height="3" fill="#e2f6f0"/>
<rect x="1629" y="1003" width="46" height="4" fill="#e0f5f0"/>
<rect x="1629" y="999" width="46" height="4" fill="#def4ef"/>
<rect x="1629" y="996" width="46" height="3" fill="#dcf3ef"/>
<rect x="1629" y="992" width="46" height="4" fill="#dbf3ef"/>
<rect x="1629" y="989" width="46" height="3" fill="#d9f2ef"/>
<rect x="1629" y="985" width="46" height="4" fill="#d7f1ef"/>
<rect x="1629" y="981" width="46" height="4" fill="#d6f0ef"/>
<rect x="1629" y="978" width="46" height="3" fill="#d4efef"/>
<rect x="1629" y="974" width="46" height="4" fill="#d3eeef"/>
<rect x="1629" y="971" width="46" height="3" fill="#d1edef"/>
<rect x="1629" y="967" width="46" height="4" fill="#d0ecef"/>
<rect x="1629" y="963" width="46" height="4" fill="#cfebef"/>
<rect x="1629" y="960" width="46" height="3" fill="#cdeaef"/>
<rect x="1629" y="956" width="46" height="4" fill="#cce9ef"/>
<rect x="1629" y="953" width="46" height="3" fill="#cbe8f0"/>
<rect x="1629" y="949" width="46" height="4" fill="#cae7f0"/>
<rect x="1629" y="945" width="46" height="4" fill="#c9e5f0"/>
<rect x="1629" y="942" width="46" height="3" fill="#c8e4f0"/>
<rect x="1629" y="938" width="46" height="4" fill="#c7e3f1"/>
<rect x="1629" y="934" width="46" height="4" fill="#c6e1f1"/>
<rect x="1629" y="931" width="46" height="3" fill="#c6e0f1"/>
<rect x="1629" y="927" width="46" height="4" fill="#c5dff2"/>
<rect x="1629" y="924" width="46" height="3" fill="#c4ddf2"/>
<rect x="1629" y="920" width="46" height="4" fill="#c4dcf2"/>
<rect x="1629" y="916" width="46" height="4" fill="#c3daf2"/>
<rect x="1629" y="913" width="46" height="3" fill="#c3d9f3"/>
<rect x="1629" y="909" width="46" height="4" fill="#c2d7f3"/>
<rect x="1629" y="906" width="46" height="3" fill="#c2d6f3"/>
<rect x="1629" y="902" width="46" height="4" fill="#c2d4f3"/>
<rect x="1629" y="898" width="46" height="4" fill="#c2d2f3"/>
<rect x="1629" y="895" width="46" height="3" fill="#c1d1f3"/>
<rect x="1629" y="891" width="46" height="4" fill="#c1cff3"/>
<rect x="1629" y="888" width="46" height="3" fill="#c1cdf3"/>
<rect x="1629" y="884" width="46" height="4" fill="#c1ccf3"/>
<rect x="1629" y="880" width="46" height="4" fill="#c1caf3"/>
<rect x="1629" y="877" width="46" height="3" fill="#c2c8f3"/>
<rect x="1629" y="873" width="46" height="4" fill="#c2c6f3"/>
<rect x="1629" y="869" width="46" height="4" fill="#c2c5f3"/>
<rect x="1629" y="866" width="46" height="3" fill="#c2c3f2"/>
<rect x="1629" y="862" width="46" height="4" fill="#c3c1f2"/>
<rect x="1629" y="859" width="46" height="3" fill="#c3bff2"/>
<rect x="1629" y="855" width="46" height="4" fill="#c4bdf1"/>
<rect x="1629" y="851" width="46" height="4" fill="#c4bcf1"/>
<rect x="1629" y="848" width="46" height="3" fill="#c5baf0"/>
<rect x="1629" y="844" width="46" height="4" fill="#c5b8ef"/>
<rect x="1629" y="841" width="46" height="3" fill="#c6b6ee"/>
<rect x="1629" y="837" width="46" height="4" fill="#c6b4ee"/>
<rect x="1629" y="833" width="46" height="4" fill="#c7b2ed"/>
<rect x="1629" y="830" width="46" height="3" fill="#c8b1ec"/>
<rect x="1629" y="826" width="46" height="4" fill="#c8afea"/>
<rect x="1629" y="823" width="46" height="3" fill="#c9ade9"/>
<rect x="1629" y="819" width="46" height="4" fill="#caabe8"/>
<rect x="1629" y="815" width="46" height="4" fill="#caa9e7"/>
<rect x="1629" y="812" width="46" height="3" fill="#cba8e5"/>
<rect x="1629" y="808" width="46" height="4" fill="#cca6e4"/>
<rect x="1629" y="805" width="46" height="3" fill="#cca4e2"/>
<rect x="1629" y="801" width="46" height="4" fill="#cda2e0"/>
<rect x="1629" y="797" width="46" height="4" fill="#cea1df"/>
<rect x="1629" y="794" width="46" height="3" fill="#cf9fdd"/>
<rect x="1629" y="790" width="46" height="4" fill="#cf9ddb"/>
<rect x="1629" y="786" width="46" height="4" fill="#d09cd9"/>
<rect x="1629" y="783" width="46" height="3" fill="#d09ad7"/>
<rect x="1629" y="779" width="46" height="4" fill="#d198d4"/>
<rect x="1629" y="776" width="46" height="3" fill="#d297d2"/>
<rect x="1629" y="772" width="46" height="4" fill="#d295d0"/>
<rect x="1629" y="768" width="46" height="4" fill="#d294ce"/>
<rect x="1629" y="765" width="46" height="3" fill="#d392cb"/>
<rect x="1629" y="761" width="46" height="4" fill="#d391c9"/>
<rect x="1629" y="758" width="46" height="3" fill="#d490c6"/>
<rect x="1629" y="754" width="46" height="4" fill="#d48ec3"/>
<rect x="1629" y="750" width="46" height="4" fill="#d48dc1"/>
<rect x="1629" y="747" width="46" height="3" fill="#d48cbe"/>
<rect x="1629" y="743" width="46" height="4" fill="#d48abb"/>
<rect x="1629" y="740" width="46" height="3" fill="#d589b8"/>
<rect x="1629" y="736" width="46" height="4" fill="#d588b5"/>
<rect x="1629" y="732" width="46" height="4" fill="#d487b2"/>
<rect x="1629" y="729" width="46" height="3" fill="#d486af"/>
<rect x="1629" y="725" width="46" height="4" fill="#d485ac"/>
<rect x="1629" y="722" width="46" height="3" fill="#d484a9"/>
<rect x="1629" y="718" width="46" height="4" fill="#d383a6"/>
<rect x="1629" y="714" width="46" height="4" fill="#d382a3"/>
<rect x="1629" y="711" width="46" height="3" fill="#d381a0"/>
<rect x="1629" y="707" width="46" height="4" fill="#d2809c"/>
<rect x="1629" y="703" width="46" height="4" fill="#d18099"/>
<rect x="1629" y="700" width="46" height="3" fill="#d17f96"/>
<rect x="1629" y="696" width="46" height="4" fill="#d07e93"/>
<rect x="1629" y="693" width="46" height="3" fill="#cf7e8f"/>
<rect x="1629" y="689" width="46" height="4" fill="#ce7d8c"/>
<rect x="1629" y="685" width="46" height="4" fill="#cd7d89"/>
<rect x="1629" y="682" width="46" height="3" fill="#cc7c86"/>
<rect x="1629" y="678" width="46" height="4" fill="#ca7c83"/>
<rect x="1629" y="675" width="46" height="3" fill="#c97b7f"/>
<rect x="1629" y="671" width="46" height="4" fill="#c87b7c"/>
<rect x="1629" y="667" width="46" height="4" fill="#c67a79"/>
<rect x="1629" y="664" width="46" height="3" fill="#c57a76"/>
<rect x="1629" y="660" width="46" height="4" fill="#c37a73"/>
<rect x="1629" y="657" width="46" height="3" fill="#c17a70"/>
<rect x="1629" y="653" width="46" height="4" fill="#bf796d"/>
<rect x="1629" y="649" width="46" height="4" fill="#be796a"/>
<rect x="1629" y="646" width="46" height="3" fill="#bc7967"/>
<rect x="1629" y="642" width="46" height="4" fill="#b97964"/>
<rect x="1629" y="638" width="46" height="4" fill="#b77961"/>
<rect x="1629" y="635" width="46" height="3" fill="#b5795e"/>
<rect x="1629" y="631" width="46" height="4" fill="#b3795b"/>
<rect x="1629" y="628" width="46" height="3" fill="#b17959"/>
<rect x="1629" y="624" width="46" height="4" fill="#ae7956"/>
<rect x="1629" y="620" width="46" height="4" fill="#ac7954"/>
<rect x="1629" y="617" width="46" height="3" fill="#a97951"/>
<rect x="1629" y="613" width="46" height="4" fill="#a7794f"/>
<rect x="1629" y="610" width="46" height="3" fill="#a4794c"/>
<rect x="1629" y="606" width="46" height="4" fill="#a1794a"/>
<rect x="1629" y="602" width="46" height="4" fill="#9f7948"/>
<rect x="1629" y="599" width="46" height="3" fill="#9c7946"/>
<rect x="1629" y="595" width="46" height="4" fill="#997944"/>
<rect x="1629" y="592" width="46" height="3" fill="#967a42"/>
<rect x="1629" y="588" width="46" height="4" fill="#937a40"/>
<rect x="1629" y="584" width="46" height="4" fill="#907a3e"/>
<rect x="1629" y="581" width="46" height="3" fill="#8d7a3d"/>
<rect x="1629" y="577" width="46" height="4" fill="#8a7a3b"/>
<rect x="1629" y="574" width="46" height="3" fill="#877a3a"/>
<rect x="1629" y="570" width="46" height="4" fill="#847a38"/>
<rect x="1629" y="566" width="46" height="4" fill="#817a37"/>
<rect x="1629" y="563" width="46" height="3" fill="#7e7a36"/>
<rect x="1629" y="559" width="46" height="4" fill="#7b7a35"/>
<rect x="1629" y="555" width="46" height="4" fill="#787b34"/>
<rect x="1629" y="552" width="46" height="3" fill="#757b33"/>
<rect x="1629" y="548" width="46" height="4" fill="#727b32"/>
<rect x="1629" y="545" width="46" height="3" fill="#6f7b31"/>
<rect x="1629" y="541" width="46" height="4" fill="#6c7b31"/>
<rect x="1629" y="537" width="46" height="4" fill="#697b30"/>
<rect x="1629" y="534" width="46" height="3" fill="#667a30"/>
<rect x="1629" y="530" width="46" height="4" fill="#637a2f"/>
<rect x="1629" y="527" width="46" height="3" fill="#607a2f"/>
<rect x="1629" y="523" width="46" height="4" fill="#5d7a2f"/>
<rect x="1629" y="519" width="46" height="4" fill="#5a7a2f"/>
<rect x="1629" y="516" width="46" height="3" fill="#577a2f"/>
<rect x="1629" y="512" width="46" height="4" fill="#54792f"/>
<rect x="1629" y="509" width="46" height="3" fill="#51792f"/>
<rect x="1629" y="505" width="46" height="4" fill="#4e792f"/>
<rect x="1629" y="501" width="46" height="4" fill="#4c792f"/>
<rect x="1629" y="498" width="46" height="3" fill="#497830"/>
<rect x="1629" y="494" width="46" height="4" fill="#467830"/>
<rect x="1629" y="491" width="46" height="3" fill="#447731"/>
<rect x="1629" y="487" width="46" height="4" fill="#417731"/>
<rect x="1629" y="483" width="46" height="4" fill="#3f7632"/>
<rect x="1629" y="480" width="46" height="3" fill="#3c7632"/>
<rect x="1629" y="476" width="46" height="4" fill="#3a7533"/>
<rect x="1629" y="472" width="46" height="4" fill="#387434"/>
<rect x="1629" y="469" width="46" height="3" fill="#357435"/>
<rect x="1629" y="465" width="46" height="4" fill="#337335"/>
<rect x="1629" y="462" width="46" height="3" fill="#317236"/>
<rect x="1629" y="458" width="46" height="4" fill="#2f7137"/>
<rect x="1629" y="454" width="46" height="4" fill="#2d7038"/>
<rect x="1629" y="451" width="46" height="3" fill="#2b6f39"/>
<rect x="1629" y="447" width="46" height="4" fill="#2a6e3a"/>
<rect x="1629" y="444" width="46" height="3" fill="#286d3b"/>
<rect x="1629" y="440" width="46" height="4" fill="#266c3c"/>
<rect x="1629" y="436" width="46" height="4" fill="#256b3d"/>
<rect x="1629" y="433" width="46" height="3" fill="#236a3e"/>
<rect x="1629" y="429" width="46" height="4" fill="#22693f"/>
<rect x="1629" y="426" width="46" height="3" fill="#206840"/>
<rect x="1629" y="422" width="46" height="4" fill="#1f6741"/>
<rect x="1629" y="418" width="46" height="4" fill="#1e6542"/>
<rect x="1629" y="415" width="46" height="3" fill="#1d6443"/>
<rect x="1629" y="411" width="46" height="4" fill="#1c6344"/>
<rect x="1629" y="407" width="46" height="4" fill="#1b6145"/>
<rect x="1629" y="404" width="46" height="3" fill="#1a6046"/>
<rect x="1629" y="400" width="46" height="4" fill="#195e47"/>
<rect x="1629" y="397" width="46" height="3" fill="#195d48"/>
<rect x="1629" y="393" width="46" height="4" fill="#185b48"/>
<rect x="1629" y="389" width="46" height="4" fill="#175a49"/>
<rect x="1629" y="386" width="46" height="3" fill="#17584a"/>
<rect x="1629" y="382" width="46" height="4" fill="#16574b"/>
<rect x="1629" y="379" width="46" height="3" fill="#16554b"/>
<rect x="1629" y="375" width="46" height="4" fill="#16534c"/>
<rect x="1629" y="371" width="46" height="4" fill="#15524c"/>
<rect x="1629" y="368" width="46" height="3" fill="#15504d"/>
<rect x="1629" y="364" width="46" height="4" fill="#154e4d"/>
<rect x="1629" y="361" width="46" height="3" fill="#154d4e"/>
<rect x="1629" y="357" width="46" height="4" fill="#154b4e"/>
<rect x="1629" y="353" width="46" height="4" fill="#15494e"/>
<rect x="1629" y="350" width="46" height="3" fill="#15474e"/>
<rect x="1629" y="346" width="46" height="4" fill="#15464e"/>
<rect x="1629" y="343" width="46" height="3" fill="#15444f"/>
<rect x="1629" y="339" width="46" height="4" fill="#15424e"/>
<rect x="1629" y="335" width="46" height="4" fill="#16404e"/>
<rect x="1629" y="332" width="46" height="3" fill="#163f4e"/>
<rect x="1629" y="328" width="46" height="4" fill="#163d4e"/>
<rect x="1629" y="324" width="46" height="4" fill="#163b4e"/>
<rect x="1629" y="321" width="46" height="3" fill="#16394d"/>
<rect x="1629" y="317" width="46" height="4" fill="#17374d"/>
<rect x="1629" y="314" width="46" height="3" fill="#17364c"/>
<rect x="1629" y="310" width="46" height="4" fill="#17344c"/>
<rect x="1629" y="306" width="46" height="4" fill="#18324b"/>
<rect x="1629" y="303" width="46" height="3" fill="#18314a"/>
<rect x="1629" y="299" width="46" height="4" fill="#182f49"/>
<rect x="1629" y="296" width="46" height="3" fill="#192d48"/>
<rect x="1629" y="292" width="46" height="4" fill="#192c47"/>
<rect x="1629" y="288" width="46" height="4" fill="#192a46"/>
<rect x="1629" y="285" width="46" height="3" fill="#192845"/>
<rect x="1629" y="281" width="46" height="4" fill="#1a2744"/>
<rect x="1629" y="278" width="46" height="3" fill="#1a2543"/>
<rect x="1629" y="274" width="46" height="4" fill="#1a2441"/>
<rect x="1629" y="270" width="46" height="4" fill="#1a2240"/>
<rect x="1629" y="267" width="46" height="3" fill="#1a213e"/>
<rect x="1629" y="263" width="46" height="4" fill="#1b1f3d"/>
<rect x="1629" y="260" width="46" height="3" fill="#1b1e3b"/>
<rect x="1629" y="256" width="46" height="4" fill="#1b1c3a"/>
<rect x="1629" y="252" width="46" height="4" fill="#1b1b38"/>
<rect x="1629" y="249" width="46" height="3" fill="#1b1a36"/>
<rect x="1629" y="245" width="46" height="4" fill="#1a1835"/>
<rect x="1629" y="241" width="46" height="4" fill="#1a1733"/>
<rect x="1629" y="238" width="46" height="3" fill="#1a1631"/>
<rect x="1629" y="234" width="46" height="4" fill="#1a142f"/>
<rect x="1629" y="231" width="46" height="3" fill="#19132d"/>
<rect x="1629" y="227" width="46" height="4" fill="#19122b"/>
<rect x="1629" y="223" width="46" height="4" fill="#191129"/>
<rect x="1629" y="220" width="46" height="3" fill="#181027"/>
<rect x="1629" y="216" width="46" height="4" fill="#180f25"/>
<rect x="1629" y="213" width="46" height="3" fill="#170e23"/>
<rect x="1629" y="209" width="46" height="4" fill="#160d21"/>
<rect x="1629" y="205" width="46" height="4" fill="#160c1f"/>
<rect x="1629" y="202" width="46" height="3" fill="#150b1d"/>
<rect x="1629" y="198" width="46" height="4" fill="#140a1b"/>
<rect x="1629" y="195" width="46" height="3" fill="#130919"/>
<rect x="1629" y="191" width="46" height="4" fill="#120817"/>
<rect x="1629" y="187" width="46" height="4" fill="#110815"/>
<rect x="1629" y="184" width="46" height="3" fill="#100713"/>
<rect x="1629" y="180" width="46" height="4" fill="#0f0611"/>
<rect x="1629" y="176" width="46" height="4" fill="#0e050f"/>
<rect x="1629" y="173" width="46" height="3" fill="#0c050e"/>
<rect x="1629" y="169" width="46" height="4" fill="#0b040c"/>
<rect x="1629" y="166" width="46" height="3" fill="#0a030a"/>
<rect x="1629" y="162" width="46" height="4" fill="#080308"/>
<rect x="1629" y="158" width="46" height="4" fill="#070206"/>
<rect x="1629" y="155" width="46" height="3" fill="#050205"/>
<rect x="1629" y="151" width="46" height="4" fill="#030103"/>
<rect x="1629" y="148" width="46" height="3" fill="#020102"/>
<rect x="1629" y="144" width="46" height="4" fill="#000000"/>
</g>
<g id="mpl" transform="scale(2.2222222222)" style="stroke-linejoin: round; stroke-linecap: butt">
<g id="figure_1">
  <g id="axes_1">
   <g id="matplotlib.axis_1">
    <g id="xtick_1">
     <g id="text_1">
      <text style="font-size: 25px; font-family: 'DejaVu Sans', 'Liberation Sans', sans-serif; text-anchor: middle" x="138.24" y="506.596094">15</text>
     </g>
    </g>
    <g id="xtick_2">
     <g id="text_2">
      <text style="font-size: 25px; font-family: 'DejaVu Sans', 'Liberation Sans', sans-serif; text-anchor: middle" x="313.2" y="506.596094">25</text>
     </g>
    </g>
    <g id="xtick_3">
     <g id="text_3">
      <text style="font-size: 25px; font-family: 'DejaVu Sans', 'Liberation Sans', sans-serif; text-anchor: middle" x="488.16" y="506.596094">35</text>
     </g>
    </g>
    <g id="xtick_4">
     <g id="text_4">
      <text style="font-size: 25px; font-family: 'DejaVu Sans', 'Liberation Sans', sans-serif; text-anchor: middle" x="663.12" y="506.596094">45</text>
     </g>
    </g>
    <g id="text_5">
     <g transform="translate(362.7035 532.5500)">
      <text><tspan x="0 12.041 24.082" y="-0.797" style="font-size: 20px; font-family: 'DejaVu Sans Mono', 'Liberation Mono', monospace">X [</tspan><tspan x="36.123 48.848" y="-0.797" style="font-style: oblique; font-size: 20px; font-family: 'DejaVu Sans', 'Liberation Sans', sans-serif">μm</tspan><tspan x="68.33" y="-0.797" style="font-size: 20px; font-family: 'DejaVu Sans Mono', 'Liberation Mono', monospace">]</tspan></text>
     </g>
    </g>
   </g>
   <g id="matplotlib.axis_2">
    <g id="ytick_1">
     <g id="text_6">
      <text style="font-size: 25px; font-family: 'DejaVu Sans', 'Liberation Sans', sans-serif; text-anchor: end" x="131.24" y="490.098047">0.0</text>
     </g>
    </g>
    <g id="ytick_2">
     <g id="text_7">
      <text style="font-size: 25px; font-family: 'DejaVu Sans', 'Liberation Sans', sans-serif; text-anchor: end" x="131.24" y="351.498047">0.5</text>
     </g>
    </g>
    <g id="ytick_3">
     <g id="text_8">
      <text style="font-size: 25px; font-family: 'DejaVu Sans', 'Liberation Sans', sans-serif; text-anchor: end" x="131.24" y="212.898047">1.0</text>
     </g>
    </g>
    <g id="ytick_4">
     <g id="text_9">
      <text style="font-size: 25px; font-family: 'DejaVu Sans', 'Liberation Sans', sans-serif; text-anchor: end" x="131.24" y="74.298047">1.5</text>
     </g>
    </g>
    <g id="text_10">
     <g transform="translate(83.0275 313.9191) rotate(-90)">
      <text><tspan x="0" y="-0.797" style="font-style: oblique; font-size: 20px; font-family: 'DejaVu Sans', 'Liberation Sans', sans-serif">p</tspan><tspan x="12.695" y="2.484" style="font-style: oblique; font-size: 14px; font-family: 'DejaVu Sans', 'Liberation Sans', sans-serif">x</tspan><tspan x="21.527 33.568 45.609" y="-0.797" style="font-size: 20px; font-family: 'DejaVu Sans Mono', 'Liberation Mono', monospace"> [m</tspan><tspan x="57.842" y="2.484" style="font-style: oblique; font-size: 14px; font-family: 'DejaVu Sans', 'Liberation Sans', sans-serif">i</tspan><tspan x="62.278 74.319" y="-0.797" style="font-size: 20px; font-family: 'DejaVu Sans Mono', 'Liberation Mono', monospace">c]</tspan></text>
     </g>
    </g>
   </g>
   <g id="text_11">
    <text style="font-size: 20px; font-family: 'DejaVu Sans Mono', 'Liberation Mono', monospace; text-anchor: middle" x="400.68" y="58.8">At 370.09 fs</text>
   </g>
  </g>
  <g id="axes_2">
   <g id="matplotlib.axis_3"/>
   <g id="matplotlib.axis_4">
    <g id="ytick_5">
     <g id="text_12">
      <text style="font-size: 20px; font-family: 'DejaVu Sans', 'Liberation Sans', sans-serif; text-anchor: start" x="760.894" y="488.198438">0.0</text>
     </g>
    </g>
    <g id="ytick_6">
     <g id="text_13">
      <text style="font-size: 20px; font-family: 'DejaVu Sans', 'Liberation Sans', sans-serif; text-anchor: start" x="760.894" y="405.038437">0.2</text>
     </g>
    </g>
    <g id="ytick_7">
     <g id="text_14">
      <text style="font-size: 20px; font-family: 'DejaVu Sans', 'Liberation Sans', sans-serif; text-anchor: start" x="760.894" y="321.878437">0.4</text>
     </g>
    </g>
    <g id="ytick_8">
     <g id="text_15">
      <text style="font-size: 20px; font-family: 'DejaVu Sans', 'Liberation Sans', sans-serif; text-anchor: start" x="760.894" y="238.718437">0.6</text>
     </g>
    </g>
    <g id="ytick_9">
     <g id="text_16">
      <text style="font-size: 20px; font-family: 'DejaVu Sans', 'Liberation Sans', sans-serif; text-anchor: start" x="760.894" y="155.558437">0.8</text>
     </g>
    </g>
    <g id="ytick_10">
     <g id="text_17">
      <text style="font-size: 20px; font-family: 'DejaVu Sans', 'Liberation Sans', sans-serif; text-anchor: start" x="760.894" y="72.398438">1.0</text>
     </g>
    </g>
    <g id="text_18">
     <g transform="translate(813.3815 367.7531) rotate(-90)">
      <text><tspan x="0 12.695" y="-0.797" style="font-style: oblique; font-size: 20px; font-family: 'DejaVu Sans', 'Liberation Sans', sans-serif">dN</tspan><tspan x="27.656 34.395" y="-0.797" style="font-size: 20px; font-family: 'DejaVu Sans', 'Liberation Sans', sans-serif">/(</tspan><tspan x="42.197 54.893 66.729 79.424" y="-0.797" style="font-style: oblique; font-size: 20px; font-family: 'DejaVu Sans', 'Liberation Sans', sans-serif">dxdp</tspan><tspan x="92.119" y="2.484" style="font-style: oblique; font-size: 14px; font-family: 'DejaVu Sans', 'Liberation Sans', sans-serif">x</tspan><tspan x="100.951" y="-0.797" style="font-size: 20px; font-family: 'DejaVu Sans', 'Liberation Sans', sans-serif">)</tspan><tspan x="108.754 120.795 132.836 144.877 156.918 168.959 181" y="-0.797" style="font-size: 20px; font-family: 'DejaVu Sans Mono', 'Liberation Mono', monospace"> [A.U.]</tspan></text>
     </g>
    </g>
   </g>
  </g>
  <g id="axes_3">
   <g id="matplotlib.axis_5">
    <g id="ytick_11">
     <g id="text_19">
      <text style="font-size: 25px; font-family: 'DejaVu Sans', 'Liberation Sans', sans-serif; text-anchor: start; fill: #ff0000" x="670.12" y="490.098047">0</text>
     </g>
    </g>
    <g id="ytick_12">
     <g id="text_20">
      <text style="font-size: 25px; font-family: 'DejaVu Sans', 'Liberation Sans', sans-serif; text-anchor: start; fill: #ff0000" x="670.12" y="406.938047">1</text>
     </g>
    </g>
    <g id="ytick_13">
     <g id="text_21">
      <text style="font-size: 25px; font-family: 'DejaVu Sans', 'Liberation Sans', sans-serif; text-anchor: start; fill: #ff0000" x="670.12" y="323.778047">2</text>
     </g>
    </g>
    <g id="ytick_14">
     <g id="text_22">
      <text style="font-size: 25px; font-family: 'DejaVu Sans', 'Liberation Sans', sans-serif; text-anchor: start; fill: #ff0000" x="670.12" y="240.618047">3</text>
     </g>
    </g>
    <g id="ytick_15">
     <g id="text_23">
      <text style="font-size: 25px; font-family: 'DejaVu Sans', 'Liberation Sans', sans-serif; text-anchor: start; fill: #ff0000" x="670.12" y="157.458047">4</text>
     </g>
    </g>
    <g id="ytick_16">
     <g id="text_24">
      <text style="font-size: 25px; font-family: 'DejaVu Sans', 'Liberation Sans', sans-serif; text-anchor: start; fill: #ff0000" x="670.12" y="74.298047">5</text>
     </g>
    </g>
    <g id="text_25">
     <g style="fill: #ff0000" transform="translate(706.4637 431.4846) rotate(-90)">
      <text><tspan x="0" y="-0.719" style="font-style: oblique; font-size: 20px; font-family: 'DejaVu Sans', 'Liberation Sans', sans-serif; fill: #ff0000">E</tspan><tspan x="12.637" y="2.562" style="font-style: oblique; font-size: 14px; font-family: 'DejaVu Sans', 'Liberation Sans', sans-serif; fill: #ff0000">x</tspan><tspan x="21.469 33.51" y="-0.719" style="font-size: 20px; font-family: 'DejaVu Sans Mono', 'Liberation Mono', monospace; fill: #ff0000"> [</tspan><tspan x="45.551" y="-0.719" style="font-style: oblique; font-size: 20px; font-family: 'DejaVu Sans', 'Liberation Sans', sans-serif; fill: #ff0000">m</tspan><tspan x="65.033" y="2.562" style="font-style: oblique; font-size: 14px; font-family: 'DejaVu Sans', 'Liberation Sans', sans-serif; fill: #ff0000">e</tspan><tspan x="74.193 85.189" y="-0.719" style="font-style: oblique; font-size: 20px; font-family: 'DejaVu Sans', 'Liberation Sans', sans-serif; fill: #ff0000">cω</tspan><tspan x="101.938 108.676" y="-0.719" style="font-size: 20px; font-family: 'DejaVu Sans', 'Liberation Sans', sans-serif; fill: #ff0000">/|</tspan><tspan x="115.414" y="-0.719" style="font-style: oblique; font-size: 20px; font-family: 'DejaVu Sans', 'Liberation Sans', sans-serif; fill: #ff0000">e</tspan><tspan x="127.719" y="-0.719" style="font-size: 20px; font-family: 'DejaVu Sans', 'Liberation Sans', sans-serif; fill: #ff0000">|</tspan><tspan x="134.457 146.498 158.539 170.58" y="-0.719" style="font-size: 20px; font-family: 'DejaVu Sans Mono', 'Liberation Mono', monospace; fill: #ff0000">] &amp; </tspan><tspan x="182.621" y="-0.719" style="font-style: oblique; font-size: 20px; font-family: 'DejaVu Sans', 'Liberation Sans', sans-serif; fill: #ff0000">n</tspan><tspan x="195.297" y="2.562" style="font-style: oblique; font-size: 14px; font-family: 'DejaVu Sans', 'Liberation Sans', sans-serif; fill: #ff0000">e</tspan><tspan x="204.457" y="-0.719" style="font-size: 20px; font-family: 'DejaVu Sans Mono', 'Liberation Mono', monospace; fill: #ff0000">(</tspan><tspan x="216.498" y="-0.719" style="font-style: oblique; font-size: 20px; font-family: 'DejaVu Sans', 'Liberation Sans', sans-serif; fill: #ff0000">Z</tspan><tspan x="230.199" y="2.562" style="font-style: oblique; font-size: 14px; font-family: 'DejaVu Sans', 'Liberation Sans', sans-serif; fill: #ff0000">i</tspan><tspan x="234.636" y="-0.719" style="font-style: oblique; font-size: 20px; font-family: 'DejaVu Sans', 'Liberation Sans', sans-serif; fill: #ff0000">n</tspan><tspan x="247.312" y="2.562" style="font-style: oblique; font-size: 14px; font-family: 'DejaVu Sans', 'Liberation Sans', sans-serif; fill: #ff0000">i</tspan><tspan x="251.748 263.789 275.83" y="-0.719" style="font-size: 20px; font-family: 'DejaVu Sans Mono', 'Liberation Mono', monospace; fill: #ff0000">) [</tspan><tspan x="287.871" y="-0.719" style="font-style: oblique; font-size: 20px; font-family: 'DejaVu Sans', 'Liberation Sans', sans-serif; fill: #ff0000">n</tspan><tspan x="300.547" y="2.562" style="font-style: oblique; font-size: 14px; font-family: 'DejaVu Sans', 'Liberation Sans', sans-serif; fill: #ff0000">c</tspan><tspan x="308.791" y="-0.719" style="font-size: 20px; font-family: 'DejaVu Sans Mono', 'Liberation Mono', monospace; fill: #ff0000">]</tspan></text>
     </g>
    </g>
   </g>
   <g id="line2d_21">
    <path d="M 138.24 421.875 L 139.5 414 L 140.985 407.25 L 142.29 405.135 L 144.765 407.115 L 147.015 404.1 L 148.5 406.125 L 149.985 412.11 L 151.875 414 L 154.125 417.015 L 156.015 420.39 L 157.5 419.265 L 158.985 416.25 L 161.235 414.765 L 162.765 417.735 L 164.25 423.36 L 166.5 426.735 L 172.89 437.625 L 175.14 438.39 L 177.39 435.375 L 179.64 433.89 L 181.89 435.735 L 184.5 436.86 L 186.75 434.61 L 190.125 433.485 L 192.015 436.14 L 193.86 440.235 L 196.11 442.125 L 198.765 447.75 L 201.015 446.625 L 203.265 449.235 L 205.515 452.61 L 207 455.625 L 208.485 458.235 L 209.61 462.735 L 210.735 465.75 L 212.085 466.875 L 213.75 464.625 L 215.235 461.61 L 216.36 459.765 L 218.25 459.36 L 219.735 455.985 L 221.625 453.375 L 223.875 451.89 L 226.125 452.835 L 229.14 452.25 L 230.985 451.485 L 233.235 451.485 L 235.89 449.235 L 237.735 450.765 L 239.985 452.25 L 242.64 450.36 L 244.485 452.61 L 246.375 455.265 L 249.39 455.625 L 253.125 451.89 L 256.14 452.61 L 258.39 452.25 L 260.64 454.5 L 264.015 453.015 L 266.265 454.14 L 267.93 454.14 L 270 456.57 L 272.25 456.885 L 274.68 455.445 L 276.93 453.555 L 278.82 452.61 L 280.89 452.25 L 283.14 451.35 L 285.39 452.25 L 287.64 454.14 L 289.89 453.915 L 291.735 454.86 L 293.625 458.235 L 295.515 462.015 L 297.765 464.985 L 300.015 467.64 L 302.625 468.765 L 304.875 470.25 L 306.765 471.015 L 308.61 471.285 L 310.86 470.07 L 313.11 469.305 L 315.36 466.875 L 317.61 464.805 L 320.04 462.915 L 322.29 462.24 L 324.36 461.88 L 326.7 460.62 L 328.95 459.585 L 331.515 458.91 L 333.9 459.72 L 335.97 460.89 L 337.32 462.375 L 338.625 463.5 L 340.515 464.085 L 342 464.85 L 343.89 463.5 L 345.735 463.365 L 347.625 465.39 L 349.515 467.64 L 352.89 472.5 L 354.735 473.625 L 357.75 474.165 L 360.765 473.85 L 363.015 474.39 L 365.625 473.49 L 367.515 474.75 L 369.765 475.65 L 372.015 475.875 L 374.265 475.515 L 376.11 475.335 L 378 474.21 L 379.485 472.5 L 381.375 469.89 L 383.625 469.125 L 385.515 467.64 L 387.765 466.335 L 390.015 465.39 L 392.625 464.625 L 394.515 463.365 L 396.765 463.365 L 398.61 463.86 L 400.5 463.5 L 403.515 463.635 L 406.125 462.375 L 408.015 461.835 L 410.265 460.89 L 412.515 460.89 L 414.765 460.125 L 416.61 458.64 L 423.36 451.89 L 425.61 450.585 L 428.265 449.64 L 430.875 449.82 L 433.485 450.36 L 436.14 450.585 L 438.75 451.89 L 441 453.735 L 447.75 460.485 L 451.485 466.515 L 453.375 469.8 L 455.265 472.14 L 457.515 474.39 L 459.765 476.235 L 462.375 477.765 L 465.75 479.565 L 468.765 480.96 L 471.015 480.69 L 473.265 481.5 L 475.875 481.185 L 478.125 478.8 L 480.015 475.515 L 482.265 473.265 L 485.235 471.375 L 487.485 469.125 L 489.735 466.515 L 491.985 463.5 L 498.735 456.75 L 502.875 455.265 L 504.765 452.61 L 507.015 449.235 L 508.86 446.985 L 510.75 446.085 L 512.64 444.015 L 514.485 440.235 L 516.375 435.735 L 518.265 431.64 L 522 422.64 L 523.485 419.985 L 525.375 418.5 L 527.625 417.375 L 529.515 414.36 L 531.36 411.75 L 533.25 409.365 L 535.14 408.375 L 536.985 405.765 L 538.875 404.415 L 541.125 404.1 L 543.375 406.125 L 547.515 407.835 L 549.765 408.375 L 552.015 410.265 L 554.985 411.75 L 556.875 414 L 558.765 417.015 L 560.61 420.39 L 565.515 424.35 L 567.36 426.735 L 568.89 428.4 L 570.735 428.085 L 572.985 429.165 L 575.235 428.85 L 577.485 430.11 L 579.735 431.235 L 581.625 432.9 L 583.875 433.485 L 586.485 432.585 L 588.735 433.485 L 590.985 434.835 L 592.875 436.365 L 594 436.86 L 595.89 435.735 L 597.735 436.365 L 599.985 435.6 L 602.235 437.085 L 604.89 437.085 L 607.5 438.39 L 610.875 437.85 L 613.485 439.335 L 616.14 440.64 L 618.39 440.865 L 620.64 439.65 L 622.89 441 L 625.5 439.11 L 627.75 438.39 L 630 437.085 L 631.89 436.635 L 634.5 434.61 L 637.11 432.9 L 639.36 432.36 L 642.015 430.335 L 646.11 429.615 L 648 429.885 L 650.25 428.4 L 652.14 428.985 L 653.985 428.85 L 656.64 430.11 L 659.25 430.335 L 661.5 430.11 L 663.39 431.1 L 663.39 431.1" clip-path="url(#pc9b4a69359)" style="fill: none; stroke: #00ff00; stroke-width: 3; stroke-linecap: square"/>
   </g>
   <g id="line2d_22">
    <path d="M 138.15 75.825 L 138.69 111.6 L 139.23 106.2 L 140.265 131.4 L 141.075 113.4 L 142.02 130.5 L 142.83 118.8 L 143.91 138.375 L 144.81 133.2 L 146.16 157.5 L 147.15 144 L 147.6 150.75 L 148.185 140.985 L 148.815 167.625 L 150.66 145.89 L 151.65 178.515 L 152.91 168.75 L 154.35 194.625 L 156.15 178.2 L 158.625 217.485 L 161.415 189.36 L 163.485 199.485 L 163.89 227.25 L 165.915 205.515 L 167.265 234.765 L 169.335 229.14 L 171.36 251.235 L 172.8 239.4 L 174.375 236.61 L 175.14 253.485 L 177.885 242.64 L 178.875 265.86 L 180.9 259.65 L 182.25 237.735 L 184.86 266.265 L 185.985 255.735 L 188.415 291.375 L 192.015 269.64 L 192.735 288.765 L 194.625 273.735 L 197.64 298.485 L 198.675 294.75 L 199.89 301.14 L 200.7 292.5 L 201.6 296.1 L 202.5 287.64 L 203.625 305.235 L 204.75 302.4 L 205.875 308.61 L 208.89 291.6 L 210.015 310.05 L 211.5 311.265 L 211.86 329.985 L 212.985 324 L 213.885 330.75 L 215.64 322.515 L 216.765 329.265 L 219.15 314.64 L 220.14 327.375 L 221.265 328.5 L 222.39 333.765 L 223.875 332.235 L 225.135 346.5 L 227.25 329.985 L 230.4 357.75 L 231.39 340.515 L 232.875 346.5 L 234.765 339.39 L 235.125 362.25 L 236.61 364.5 L 237.735 356.985 L 240.75 367.875 L 242.865 356.985 L 245.25 380.25 L 247.14 353.61 L 248.985 367.11 L 250.875 360 L 253.89 378.765 L 256.5 381.015 L 258.39 397.125 L 260.235 381.375 L 263.61 391.5 L 265.5 390.375 L 268.515 396 L 270 400.5 L 272.385 388.125 L 273.735 402.75 L 275.265 399.015 L 276.75 405.765 L 278.64 395.64 L 280.485 410.985 L 283.005 400.5 L 283.86 412.515 L 285.705 411.93 L 286.515 421.515 L 287.64 414 L 289.125 432.765 L 292.545 411.39 L 294.39 427.86 L 296.235 423.765 L 298.485 421.875 L 300.015 436.5 L 301.5 423.36 L 304.875 435.375 L 307.44 420.93 L 310.14 438.75 L 311.85 423 L 314.235 443.25 L 315.765 441 L 317.43 437.625 L 319.05 444.015 L 320.625 427.86 L 322.65 431.64 L 324 439.11 L 326.61 433.125 L 327.735 440.235 L 329.31 446.625 L 331.515 435.735 L 333.765 432.765 L 336.06 438.75 L 338.985 434.835 L 340.875 450 L 343.26 432.585 L 345.015 443.25 L 347.985 448.875 L 349.11 438.75 L 350.775 438.75 L 351.36 444.735 L 353.79 440.64 L 355.5 448.515 L 356.625 444.015 L 358.515 454.5 L 360 445.14 L 361.89 447.75 L 363.51 442.125 L 365.4 450.36 L 367.515 447.75 L 369.765 453.735 L 370.89 442.89 L 372.96 438.75 L 373.86 455.265 L 375.75 443.25 L 376.875 453.015 L 378.36 445.5 L 380.25 450 L 381.735 442.485 L 382.86 447.75 L 383.985 445.5 L 385.335 456.39 L 387.9 441.585 L 389.61 449.64 L 390.735 447.75 L 392.265 448.875 L 393.975 444.375 L 397.665 450 L 398.61 447.39 L 399.735 448.875 L 401.085 447.75 L 402.75 460.89 L 404.235 445.86 L 406.35 442.35 L 408.735 453.6 L 409.5 452.25 L 411.39 457.515 L 412.875 444.015 L 415.125 439.335 L 418.5 460.485 L 420.39 446.085 L 423 455.265 L 426.015 459 L 427.14 449.64 L 429.165 446.085 L 430.335 452.25 L 431.865 448.11 L 437.04 470.61 L 438.39 461.25 L 439.515 462.015 L 440.64 459 L 442.35 461.25 L 443.835 446.985 L 445.14 451.485 L 446.4 448.515 L 447.39 452.61 L 449.1 446.985 L 450.225 447.75 L 451.125 457.515 L 454.365 466.515 L 456.165 457.875 L 457.335 462.735 L 458.235 458.64 L 459.765 461.25 L 461.385 452.61 L 463.14 455.985 L 464.085 452.25 L 467.64 466.11 L 468.765 462.015 L 471.015 465.75 L 472.5 464.265 L 473.85 455.265 L 475.515 458.64 L 476.235 451.89 L 478.35 454.86 L 480.6 462.015 L 481.86 459 L 482.985 463.86 L 484.29 455.625 L 486.765 469.125 L 488.61 469.89 L 490.5 468 L 493.875 452.385 L 498.015 464.265 L 499.14 455.985 L 500.265 461.25 L 501.39 459.765 L 503.64 467.235 L 505.89 458.235 L 507.015 459 L 508.725 446.985 L 510.75 451.485 L 513.36 462.015 L 516.6 457.11 L 519.39 465.75 L 520.875 465.75 L 522 463.5 L 524.61 461.25 L 527.265 455.265 L 530.64 468.36 L 534.96 453.375 L 538.11 466.11 L 539.64 457.875 L 541.485 463.14 L 544.5 470.61 L 547.875 462.375 L 550.125 463.5 L 550.89 468 L 552.375 467.235 L 555.75 471.015 L 557.64 461.61 L 559.89 465.39 L 560.61 473.985 L 562.86 468.765 L 564.39 469.125 L 566.46 459 L 568.89 469.125 L 570.015 465.75 L 571.635 471.735 L 574.11 455.625 L 576.36 459.765 L 577.89 472.86 L 580.14 473.265 L 581.265 465.75 L 583.515 461.835 L 585.765 470.25 L 588.015 471.735 L 588.96 464.625 L 590.985 463.14 L 593.235 473.625 L 594 473.265 L 597.375 466.515 L 599.625 460.485 L 600.75 459.765 L 601.11 467.235 L 602.64 464.985 L 603.135 472.5 L 604.89 471.375 L 606.015 469.485 L 607.5 456.39 L 612 473.985 L 613.665 474.39 L 614.61 467.64 L 615.375 470.25 L 616.86 466.515 L 619.11 469.89 L 620.64 475.11 L 622.125 468.36 L 623.385 472.5 L 624.96 459.765 L 626.985 476.64 L 628.875 473.265 L 630.765 475.11 L 632.835 469.125 L 635.265 477.765 L 637.875 477 L 639 472.14 L 640.89 471.375 L 643.5 478.125 L 646.515 471.015 L 648.585 466.875 L 650.61 474.75 L 653.265 474.39 L 655.515 470.61 L 657.36 472.86 L 658.89 467.235 L 660.375 467.235 L 661.5 477 L 663.39 474.75 L 663.39 474.75" clip-path="url(#pc9b4a69359)" style="fill: none; stroke: #0000ff; stroke-width: 3; stroke-linecap: square"/>
   </g>
   <g id="line2d_23">
    <path d="M 138.15 103.59 L 139.68 102.42 L 140.4 106.425 L 142.245 106.785 L 142.965 115.785 L 147.42 105.84 L 148.365 114.39 L 148.95 123.3 L 149.985 127.485 L 151.11 132.75 L 151.875 135.765 L 153 136.125 L 155.16 149.85 L 156.015 153 L 156.735 157.14 L 158.265 156.015 L 159.75 157.14 L 161.415 156.375 L 162.36 159.75 L 163.125 166.86 L 164.25 167.265 L 165.015 174.735 L 166.14 180 L 167.265 193.5 L 168.615 194.265 L 169.11 200.61 L 171 199.125 L 172.665 197.235 L 173.61 200.25 L 174.915 205.515 L 176.4 205.875 L 176.985 212.265 L 178.74 207.36 L 180.36 210.015 L 181.35 214.11 L 183.015 212.985 L 184.86 219.015 L 186.75 215.64 L 187.875 221.265 L 188.64 225.765 L 189.36 228.015 L 190.485 229.14 L 190.89 232.11 L 192.24 233.235 L 193.14 237.735 L 193.86 243 L 194.85 246.375 L 195.39 252.36 L 197.235 251.235 L 198 260.235 L 199.35 260.64 L 199.89 262.89 L 201.15 263.61 L 202.5 266.265 L 206.235 279.765 L 207 284.265 L 208.125 287.64 L 209.25 289.485 L 210.735 291.375 L 211.5 293.985 L 212.085 298.89 L 213.39 298.71 L 214.425 302.85 L 215.865 300.375 L 216.99 304.2 L 219.375 310.5 L 221.535 309.24 L 223.515 318.375 L 225.36 317.61 L 226.89 320.265 L 228.015 323.64 L 228.915 329.985 L 230.625 331.11 L 234 344.25 L 235.125 346.14 L 235.485 350.64 L 237.015 351.36 L 238.14 354.375 L 239.49 355.14 L 240.12 360.225 L 241.65 364.5 L 243.675 364.68 L 245.25 368.325 L 246.375 372.825 L 248.04 377.1 L 248.85 378.36 L 250.875 376.515 L 252.225 379.125 L 254.07 380.79 L 255.6 383.4 L 257.625 387.765 L 259.875 388.89 L 261 393.75 L 263.25 394.875 L 264.735 398.25 L 266.175 400.05 L 267.75 401.4 L 269.775 405.54 L 272.43 406.89 L 273.96 410.985 L 276.21 411.39 L 278.1 413.235 L 279.99 414.36 L 281.07 418.68 L 282.6 419.85 L 284.4 425.25 L 286.65 426.375 L 288.9 430.11 L 291.375 429.39 L 293.265 433.125 L 295.11 436.14 L 297.36 437.265 L 298.665 440.235 L 300.555 440.235 L 302.805 442.89 L 304.515 442.44 L 306 443.61 L 307.485 443.07 L 309.015 444.96 L 310.59 444.735 L 312.39 446.265 L 314.235 444.735 L 316.305 443.385 L 318.735 442.98 L 321.39 441.9 L 323.235 442.485 L 325.125 441.36 L 327.015 442.575 L 328.5 441.99 L 330.57 443.16 L 332.415 443.7 L 333.99 443.25 L 335.61 445.86 L 337.32 447.57 L 338.985 450.36 L 340.515 448.515 L 342.135 447.39 L 343.485 449.235 L 345.015 450.765 L 346.5 449.64 L 347.985 452.25 L 350.235 452.61 L 352.485 453.735 L 354.735 454.5 L 356.265 455.265 L 357.39 454.14 L 358.875 455.985 L 360.765 453.735 L 362.61 454.5 L 364.14 455.265 L 365.625 454.14 L 367.11 455.265 L 369 457.11 L 370.485 457.875 L 372.375 455.625 L 374.265 456.39 L 375.39 455.985 L 376.875 457.515 L 378 456.75 L 379.35 457.515 L 381.015 453.735 L 383.265 452.25 L 385.515 452.115 L 387 451.665 L 388.485 453.375 L 390.375 454.365 L 391.86 453.735 L 393.39 455.265 L 394.875 456.39 L 396.585 454.14 L 397.89 455.625 L 399.375 456.39 L 401.265 458.235 L 403.515 457.515 L 405.36 457.875 L 407.61 456.39 L 409.5 455.625 L 410.985 456.39 L 412.65 456.39 L 414.36 457.875 L 416.25 457.11 L 417.735 455.625 L 419.265 455.985 L 420.615 454.86 L 421.875 456.39 L 423.36 456.75 L 424.89 458.235 L 426.6 454.14 L 427.86 456.75 L 428.985 460.125 L 430.875 461.25 L 432.585 460.485 L 434.25 462.375 L 436.14 463.5 L 437.985 464.265 L 439.875 464.625 L 441.36 466.515 L 443.25 468 L 445.5 468 L 447.39 469.125 L 448.875 468.765 L 450 469.71 L 452.25 471.015 L 454.5 470.25 L 456.39 470.835 L 457.875 470.115 L 459.36 470.835 L 461.25 469.89 L 464.265 468.765 L 466.515 469.89 L 468 468.36 L 469.89 470.115 L 472.14 470.385 L 473.985 469.125 L 475.515 468.36 L 477.36 469.35 L 479.61 469.125 L 481.5 466.515 L 483.39 467.865 L 485.64 464.625 L 487.485 464.625 L 489.015 463.86 L 490.86 465.75 L 493.11 466.875 L 494.64 466.515 L 496.485 467.64 L 498.375 464.625 L 500.265 464.625 L 501.75 465.75 L 503.64 467.64 L 505.485 467.235 L 507.015 464.985 L 508.86 464.625 L 511.515 463.14 L 513.765 461.25 L 515.61 460.665 L 517.5 462.015 L 519.75 460.485 L 522 457.875 L 523.485 455.265 L 525.375 452.25 L 526.86 455.265 L 528.39 460.485 L 529.515 465.39 L 531 464.985 L 532.89 463.5 L 534.015 460.125 L 535.365 457.875 L 536.985 459.585 L 538.515 459.765 L 540.36 461.25 L 542.61 460.485 L 544.14 463.5 L 547.515 469.125 L 549 470.385 L 552.015 469.89 L 554.265 471.735 L 556.11 473.625 L 558.36 475.335 L 560.61 476.235 L 563.985 476.415 L 569.25 475.515 L 572.265 475.875 L 575.235 476.64 L 578.25 476.415 L 581.265 476.865 L 584.235 476.235 L 587.25 476.415 L 589.14 475.875 L 590.985 476.865 L 594 477.09 L 597.015 476.64 L 599.985 477 L 603 476.865 L 606.375 477.585 L 608.985 477.135 L 612.765 477.9 L 616.14 477.585 L 619.515 478.125 L 628.515 478.125 L 631.485 478.485 L 634.5 478.125 L 639.765 475.515 L 642.735 474.39 L 644.985 475.515 L 647.235 477.36 L 657.765 478.125 L 663.39 478.125 L 663.39 478.125" clip-path="url(#pc9b4a69359)" style="fill: none; stroke: #ff0000; stroke-width: 3; stroke-linecap: square"/>
   </g>
   <g id="legend_1">
    <g id="patch_13">
     <path d="M 350.500 170.100 L 450.500 170.100 Q 454.500 170.100 454.500 166.100 L 454.500 78.700 Q 454.500 74.700 450.500 74.700 L 350.500 74.700 Q 346.500 74.700 346.500 78.700 L 346.500 166.100 Q 346.500 170.100 350.500 170.100 z" style="fill: #ffffff; stroke: #cccccc; stroke-linejoin: miter"/>
    </g>
    <g id="line2d_24">
     <path d="M 354.674 91.550 L 394.674 91.550" style="fill: none; stroke: #00ff00; stroke-width: 3; stroke-linecap: square"/>
    </g>
    <g id="text_26">
     <g transform="translate(411.5738 98.5500)">
      <text><tspan x="0" y="-0.422" style="font-style: oblique; font-size: 20px; font-family: 'DejaVu Sans', 'Liberation Sans', sans-serif">E</tspan><tspan x="12.637" y="2.859" style="font-style: oblique; font-size: 14px; font-family: 'DejaVu Sans', 'Liberation Sans', sans-serif">x</tspan></text>
     </g>
    </g>
    <g id="line2d_25">
     <path d="M 354.674 120.990 L 394.674 120.990" style="fill: none; stroke: #0000ff; stroke-width: 3; stroke-linecap: square"/>
    </g>
    <g id="text_27">
     <g transform="translate(411.1238 128.8900)">
      <text><tspan x="0" y="-0.797" style="font-style: oblique; font-size: 20px; font-family: 'DejaVu Sans', 'Liberation Sans', sans-serif">n</tspan><tspan x="12.676" y="2.484" style="font-style: oblique; font-size: 14px; font-family: 'DejaVu Sans', 'Liberation Sans', sans-serif">e</tspan></text>
     </g>
    </g>
    <g id="line2d_26">
     <path d="M 354.674 150.880 L 394.674 150.880" style="fill: none; stroke: #ff0000; stroke-width: 3; stroke-linecap: square"/>
    </g>
    <g id="text_28">
     <g transform="translate(411.5738 157.8800)">
      <text><tspan x="0" y="-0.422" style="font-style: oblique; font-size: 20px; font-family: 'DejaVu Sans', 'Liberation Sans', sans-serif">Z</tspan><tspan x="13.701" y="2.859" style="font-style: oblique; font-size: 14px; font-family: 'DejaVu Sans', 'Liberation Sans', sans-serif">i</tspan><tspan x="18.138" y="-0.422" style="font-style: oblique; font-size: 20px; font-family: 'DejaVu Sans', 'Liberation Sans', sans-serif">n</tspan><tspan x="30.813" y="2.859" style="font-style: oblique; font-size: 14px; font-family: 'DejaVu Sans', 'Liberation Sans', sans-serif">i</tspan></text>
     </g>
    </g>
   </g>
  </g>
 </g>
 <defs>
  <clipPath id="pc9b4a69359">
   <rect x="138.24" y="64.8" width="524.88" height="415.8"/>
  </clipPath>
  <clipPath id="pa1af8c3b4a">
   <rect x="733.104" y="64.8" width="20.79" height="415.8"/>
  </clipPath>
 </defs>
</g>
<g id="frame" shape-rendering="crispEdges">
<rect x="299" y="143" width="7" height="2" fill="#1b1b1b"/>
<rect x="299" y="451" width="7" height="2" fill="#1b1b1b"/>
<rect x="299" y="759" width="7" height="2" fill="#1b1b1b"/>
<rect x="299" y="1067" width="7" height="2" fill="#1b1b1b"/>
<rect x="306" y="1069" width="2" height="7" fill="#1b1b1b"/>
<rect x="695" y="1069" width="2" height="7" fill="#1b1b1b"/>
<rect x="1084" y="1069" width="2" height="7" fill="#1b1b1b"/>
<rect x="1473" y="1069" width="2" height="7" fill="#1b1b1b"/>
<rect x="1475" y="143" width="7" height="2" fill="#ff1b1b"/>
<rect x="1676" y="143" width="7" height="2" fill="#1b1b1b"/>
<rect x="1475" y="328" width="7" height="2" fill="#ff1b1b"/>
<rect x="1676" y="328" width="7" height="2" fill="#1b1b1b"/>
<rect x="1475" y="513" width="7" height="2" fill="#ff1b1b"/>
<rect x="1676" y="513" width="7" height="2" fill="#1b1b1b"/>
<rect x="1475" y="697" width="7" height="2" fill="#ff1b1b"/>
<rect x="1676" y="697" width="7" height="2" fill="#1b1b1b"/>
<rect x="1475" y="882" width="7" height="2" fill="#ff1b1b"/>
<rect x="1676" y="882" width="7" height="2" fill="#1b1b1b"/>
<rect x="1475" y="1067" width="7" height="2" fill="#ff1b1b"/>
<rect x="1676" y="1067" width="7" height="2" fill="#1b1b1b"/>
<rect x="306" y="143" width="1169" height="2" fill="#020202"/>
<rect x="306" y="1067" width="1169" height="2" fill="#020202"/>
<rect x="306" y="145" width="2" height="922" fill="#020202"/>
<rect x="1473" y="145" width="2" height="922" fill="#020202"/>
<rect x="1628" y="143" width="48" height="2" fill="#000" fill-opacity="0.894"/>
<rect x="1628" y="1067" width="48" height="2" fill="#000" fill-opacity="0.894"/>
<rect x="1628" y="145" width="2" height="922" fill="#000" fill-opacity="0.894"/>
<rect x="1674" y="145" width="2" height="922" fill="#000" fill-opacity="0.894"/>
</g>
</svg>
</body>
</html>
